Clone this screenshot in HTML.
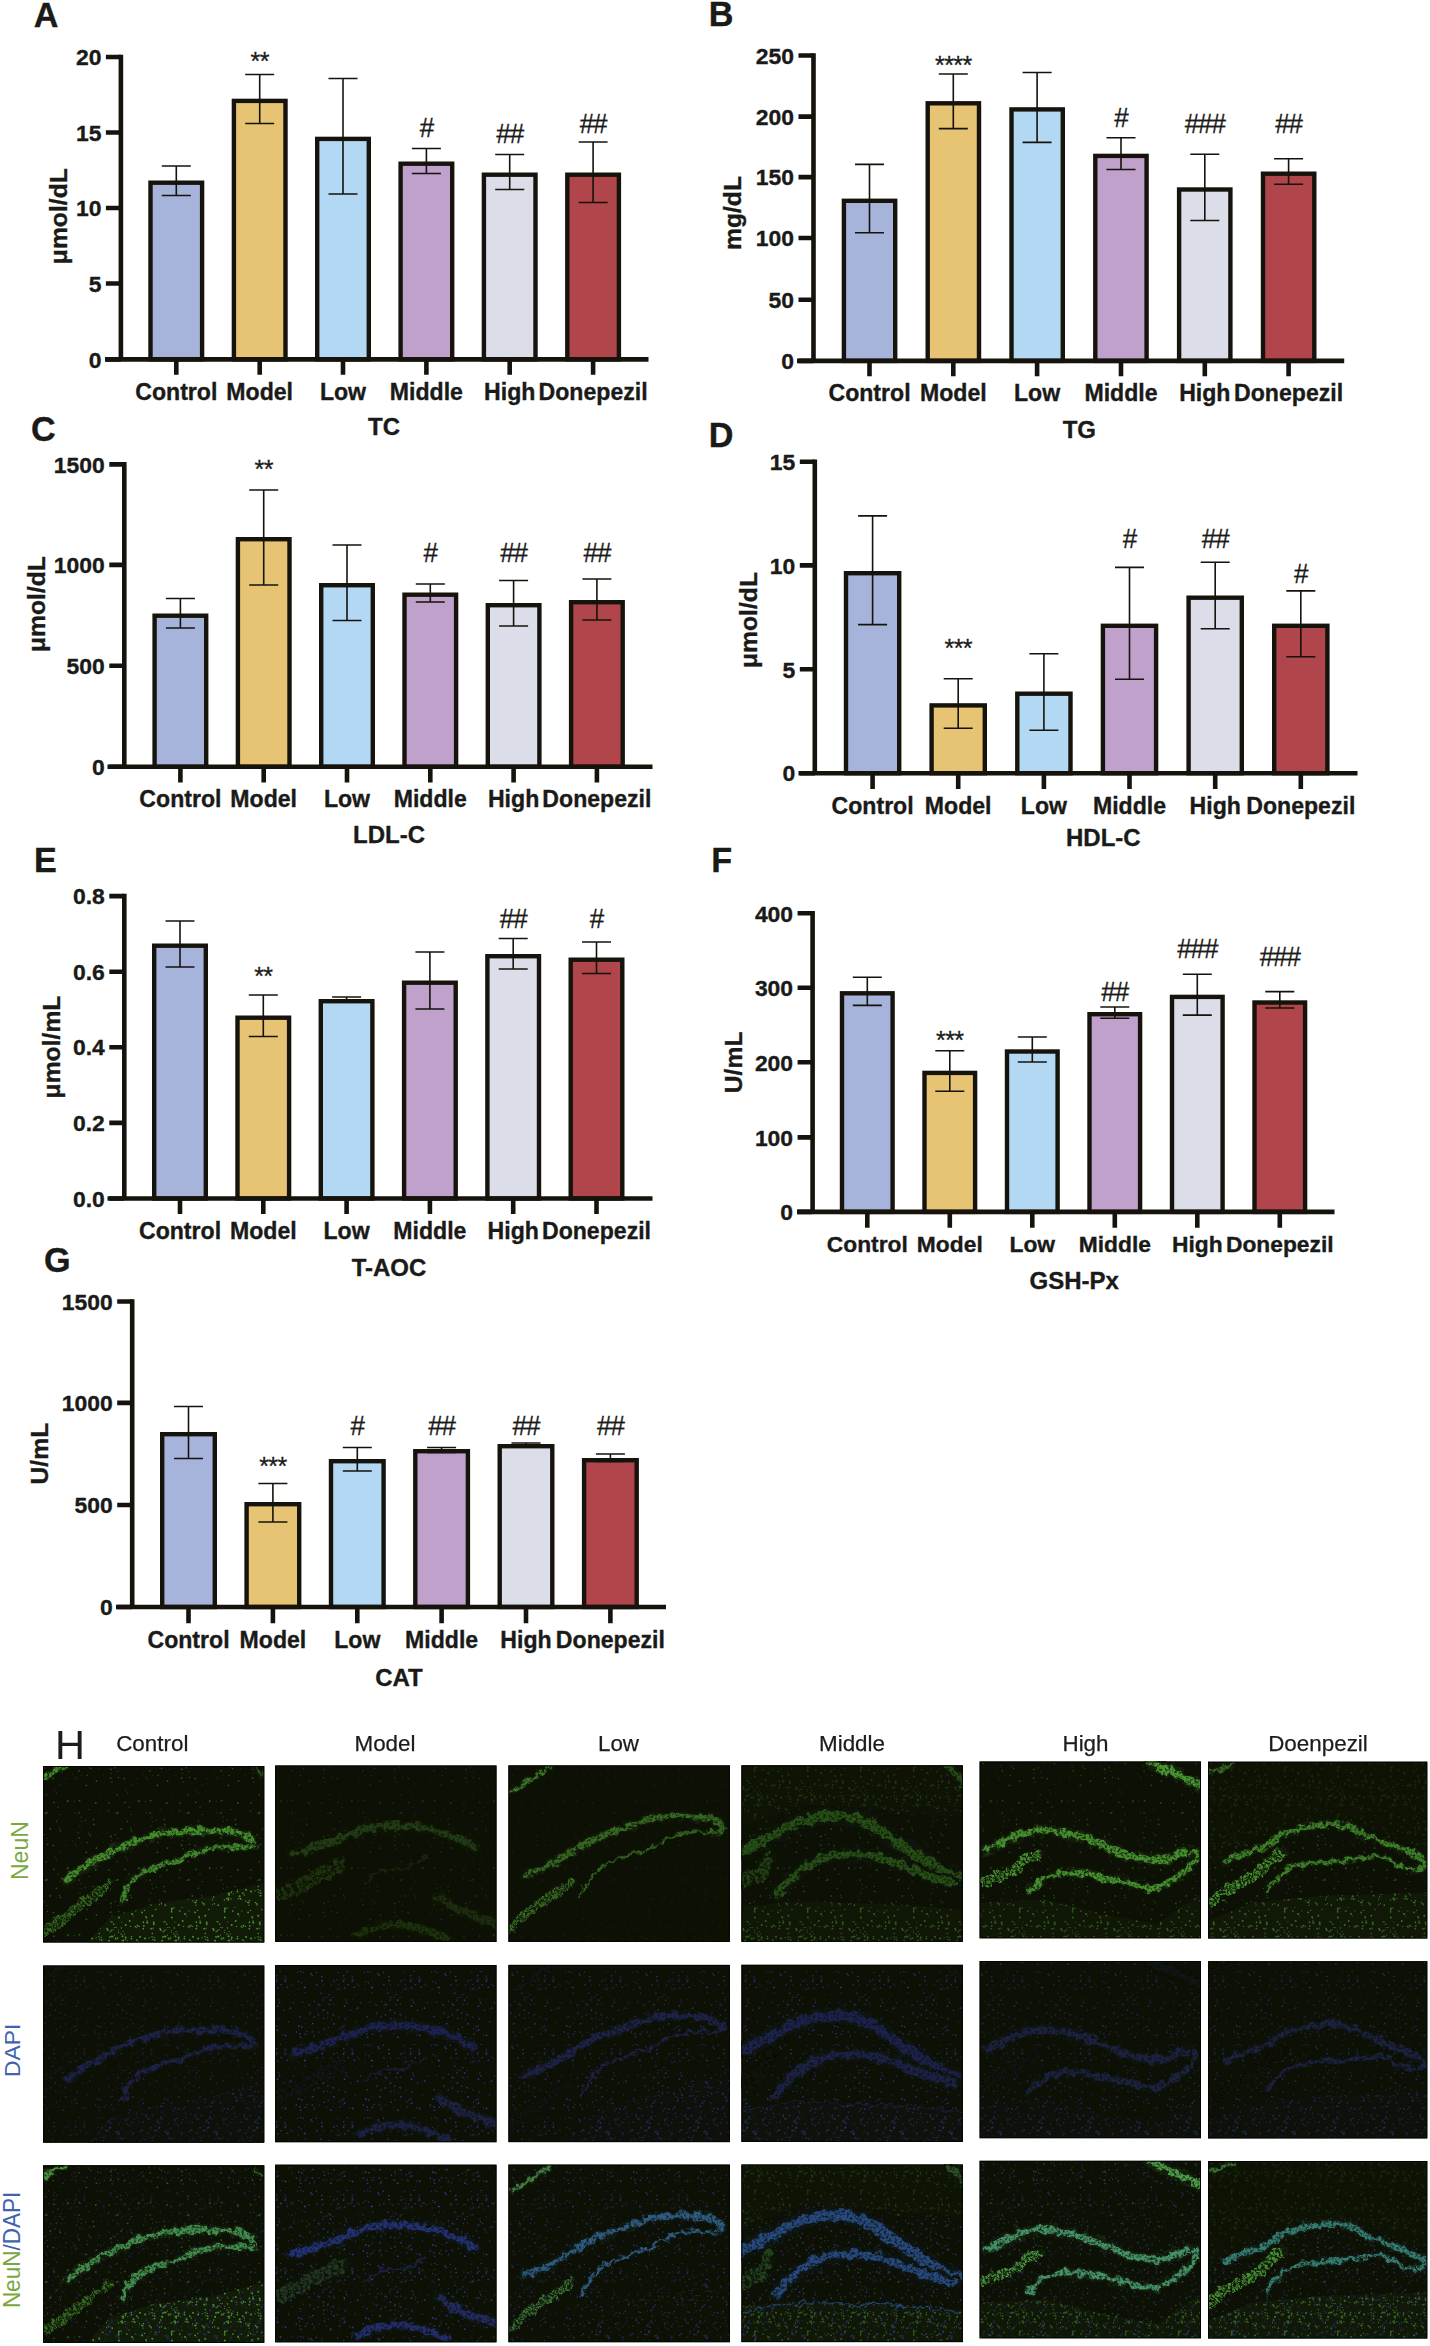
<!DOCTYPE html>
<html lang="en"><head><meta charset="utf-8"><title>Figure</title>
<style>html,body{margin:0;padding:0;background:#fff}svg{display:block}</style></head>
<body>
<svg width="1430" height="2346" viewBox="0 0 1430 2346" font-family="'Liberation Sans', Arial, Helvetica, sans-serif">
<rect width="1430" height="2346" fill="#fff"/>
<rect x="150.5" y="182.7" width="51.6" height="176.7" fill="#a6b4dc" stroke="#15130b" stroke-width="4.4"/>
<rect x="233.9" y="100.9" width="51.6" height="258.5" fill="#e6c473" stroke="#15130b" stroke-width="4.4"/>
<rect x="317.2" y="138.9" width="51.6" height="220.5" fill="#b3d8f3" stroke="#15130b" stroke-width="4.4"/>
<rect x="400.6" y="163.7" width="51.6" height="195.7" fill="#bfa1cc" stroke="#15130b" stroke-width="4.4"/>
<rect x="483.9" y="174.7" width="51.6" height="184.7" fill="#dbdde9" stroke="#15130b" stroke-width="4.4"/>
<rect x="567.3" y="174.7" width="51.6" height="184.7" fill="#b0454c" stroke="#15130b" stroke-width="4.4"/>
<path d="M161.8 166.0H190.8M161.8 195.5H190.8M176.3 166.0V195.5" stroke="#15130b" stroke-width="1.6" fill="none"/>
<path d="M245.2 74.5H274.2M245.2 123.5H274.2M259.7 74.5V123.5" stroke="#15130b" stroke-width="1.6" fill="none"/>
<path d="M328.5 78.5H357.5M328.5 194.0H357.5M343.0 78.5V194.0" stroke="#15130b" stroke-width="1.6" fill="none"/>
<path d="M411.9 148.5H440.9M411.9 173.5H440.9M426.4 148.5V173.5" stroke="#15130b" stroke-width="1.6" fill="none"/>
<path d="M495.2 154.5H524.2M495.2 189.5H524.2M509.7 154.5V189.5" stroke="#15130b" stroke-width="1.6" fill="none"/>
<path d="M578.6 142.0H607.6M578.6 202.5H607.6M593.1 142.0V202.5" stroke="#15130b" stroke-width="1.6" fill="none"/>
<path d="M120.9 54.7V361.7M105.0 359.4H648.5" stroke="#15130b" stroke-width="4.6" fill="none"/>
<path d="M105.9 57.0H120.9M105.9 132.5H120.9M105.9 208.0H120.9M105.9 283.5H120.9M105.9 359.4H120.9" stroke="#15130b" stroke-width="4.6" fill="none"/>
<text x="101.4" y="65.2" font-size="22.9" font-weight="700" text-anchor="end" fill="#1a1a18" stroke="#1a1a18" stroke-width="0.35">20</text>
<text x="101.4" y="140.7" font-size="22.9" font-weight="700" text-anchor="end" fill="#1a1a18" stroke="#1a1a18" stroke-width="0.35">15</text>
<text x="101.4" y="216.2" font-size="22.9" font-weight="700" text-anchor="end" fill="#1a1a18" stroke="#1a1a18" stroke-width="0.35">10</text>
<text x="101.4" y="291.7" font-size="22.9" font-weight="700" text-anchor="end" fill="#1a1a18" stroke="#1a1a18" stroke-width="0.35">5</text>
<text x="101.4" y="367.6" font-size="22.9" font-weight="700" text-anchor="end" fill="#1a1a18" stroke="#1a1a18" stroke-width="0.35">0</text>
<path d="M176.3 359.4V374.8M259.7 359.4V374.8M343.0 359.4V374.8M426.4 359.4V374.8M509.7 359.4V374.8M593.1 359.4V374.8" stroke="#15130b" stroke-width="4.6" fill="none"/>
<text x="176.3" y="399.8" font-size="23.1" font-weight="700" text-anchor="middle" fill="#1a1a18" stroke="#1a1a18" stroke-width="0.35">Control</text>
<text x="259.7" y="399.8" font-size="23.1" font-weight="700" text-anchor="middle" fill="#1a1a18" stroke="#1a1a18" stroke-width="0.35">Model</text>
<text x="343.0" y="399.8" font-size="23.1" font-weight="700" text-anchor="middle" fill="#1a1a18" stroke="#1a1a18" stroke-width="0.35">Low</text>
<text x="426.4" y="399.8" font-size="23.1" font-weight="700" text-anchor="middle" fill="#1a1a18" stroke="#1a1a18" stroke-width="0.35">Middle</text>
<text x="509.7" y="399.8" font-size="23.1" font-weight="700" text-anchor="middle" fill="#1a1a18" stroke="#1a1a18" stroke-width="0.35">High</text>
<text x="593.1" y="399.8" font-size="23.1" font-weight="700" text-anchor="middle" fill="#1a1a18" stroke="#1a1a18" stroke-width="0.35">Donepezil</text>
<text x="384.0" y="435.0" font-size="24" font-weight="700" text-anchor="middle" fill="#1a1a18" stroke="#1a1a18" stroke-width="0.35">TC</text>
<text x="66.7" y="216.2" font-size="24.7" font-weight="700" text-anchor="middle" fill="#1a1a18" stroke="#1a1a18" stroke-width="0.35" transform="rotate(-90 66.7 216.2)">μmol/dL</text>
<text x="259.7" y="70.1" font-size="25" text-anchor="middle" fill="#1a1a18" letter-spacing="-0.6" stroke="#1a1a18" stroke-width="0.3">**</text>
<text transform="translate(426.4 137.0) scale(0.93 1)" font-size="28" text-anchor="middle" fill="#1a1a18" letter-spacing="-1.1" stroke="#1a1a18" stroke-width="0.3">#</text>
<text transform="translate(509.7 143.0) scale(0.93 1)" font-size="28" text-anchor="middle" fill="#1a1a18" letter-spacing="-1.1" stroke="#1a1a18" stroke-width="0.3">##</text>
<text transform="translate(593.1 133.0) scale(0.93 1)" font-size="28" text-anchor="middle" fill="#1a1a18" letter-spacing="-1.1" stroke="#1a1a18" stroke-width="0.3">##</text>
<text x="33.7" y="26.5" font-size="34.2" font-weight="700" text-anchor="start" fill="#1a1a18" stroke="#1a1a18" stroke-width="0.35">A</text>
<rect x="843.9" y="200.8" width="51.3" height="160.1" fill="#a6b4dc" stroke="#15130b" stroke-width="4.4"/>
<rect x="927.7" y="103.3" width="51.3" height="257.6" fill="#e6c473" stroke="#15130b" stroke-width="4.4"/>
<rect x="1011.5" y="109.4" width="51.3" height="251.5" fill="#b3d8f3" stroke="#15130b" stroke-width="4.4"/>
<rect x="1095.3" y="155.9" width="51.3" height="205.0" fill="#bfa1cc" stroke="#15130b" stroke-width="4.4"/>
<rect x="1179.1" y="189.5" width="51.3" height="171.4" fill="#dbdde9" stroke="#15130b" stroke-width="4.4"/>
<rect x="1263.0" y="173.7" width="51.3" height="187.2" fill="#b0454c" stroke="#15130b" stroke-width="4.4"/>
<path d="M855.0 164.4H884.0M855.0 232.8H884.0M869.5 164.4V232.8" stroke="#15130b" stroke-width="1.6" fill="none"/>
<path d="M938.8 74.0H967.8M938.8 128.6H967.8M953.3 74.0V128.6" stroke="#15130b" stroke-width="1.6" fill="none"/>
<path d="M1022.6 72.5H1051.6M1022.6 142.4H1051.6M1037.1 72.5V142.4" stroke="#15130b" stroke-width="1.6" fill="none"/>
<path d="M1106.5 137.8H1135.5M1106.5 169.5H1135.5M1121.0 137.8V169.5" stroke="#15130b" stroke-width="1.6" fill="none"/>
<path d="M1190.3 154.2H1219.3M1190.3 220.5H1219.3M1204.8 154.2V220.5" stroke="#15130b" stroke-width="1.6" fill="none"/>
<path d="M1274.1 158.8H1303.1M1274.1 184.3H1303.1M1288.6 158.8V184.3" stroke="#15130b" stroke-width="1.6" fill="none"/>
<path d="M813.5 53.2V363.2M797.0 360.9H1344.2" stroke="#15130b" stroke-width="4.6" fill="none"/>
<path d="M798.5 55.5H813.5M798.5 116.6H813.5M798.5 177.1H813.5M798.5 238.0H813.5M798.5 299.7H813.5M798.5 360.9H813.5" stroke="#15130b" stroke-width="4.6" fill="none"/>
<text x="794.0" y="63.7" font-size="22.9" font-weight="700" text-anchor="end" fill="#1a1a18" stroke="#1a1a18" stroke-width="0.35">250</text>
<text x="794.0" y="124.8" font-size="22.9" font-weight="700" text-anchor="end" fill="#1a1a18" stroke="#1a1a18" stroke-width="0.35">200</text>
<text x="794.0" y="185.3" font-size="22.9" font-weight="700" text-anchor="end" fill="#1a1a18" stroke="#1a1a18" stroke-width="0.35">150</text>
<text x="794.0" y="246.2" font-size="22.9" font-weight="700" text-anchor="end" fill="#1a1a18" stroke="#1a1a18" stroke-width="0.35">100</text>
<text x="794.0" y="307.9" font-size="22.9" font-weight="700" text-anchor="end" fill="#1a1a18" stroke="#1a1a18" stroke-width="0.35">50</text>
<text x="794.0" y="369.1" font-size="22.9" font-weight="700" text-anchor="end" fill="#1a1a18" stroke="#1a1a18" stroke-width="0.35">0</text>
<path d="M869.5 360.9V376.2M953.3 360.9V376.2M1037.1 360.9V376.2M1121.0 360.9V376.2M1204.8 360.9V376.2M1288.6 360.9V376.2" stroke="#15130b" stroke-width="4.6" fill="none"/>
<text x="869.5" y="400.7" font-size="23.1" font-weight="700" text-anchor="middle" fill="#1a1a18" stroke="#1a1a18" stroke-width="0.35">Control</text>
<text x="953.3" y="400.7" font-size="23.1" font-weight="700" text-anchor="middle" fill="#1a1a18" stroke="#1a1a18" stroke-width="0.35">Model</text>
<text x="1037.1" y="400.7" font-size="23.1" font-weight="700" text-anchor="middle" fill="#1a1a18" stroke="#1a1a18" stroke-width="0.35">Low</text>
<text x="1121.0" y="400.7" font-size="23.1" font-weight="700" text-anchor="middle" fill="#1a1a18" stroke="#1a1a18" stroke-width="0.35">Middle</text>
<text x="1204.8" y="400.7" font-size="23.1" font-weight="700" text-anchor="middle" fill="#1a1a18" stroke="#1a1a18" stroke-width="0.35">High</text>
<text x="1288.6" y="400.7" font-size="23.1" font-weight="700" text-anchor="middle" fill="#1a1a18" stroke="#1a1a18" stroke-width="0.35">Donepezil</text>
<text x="1079.3" y="438.0" font-size="24" font-weight="700" text-anchor="middle" fill="#1a1a18" stroke="#1a1a18" stroke-width="0.35">TG</text>
<text x="740.6" y="213.0" font-size="24.7" font-weight="700" text-anchor="middle" fill="#1a1a18" stroke="#1a1a18" stroke-width="0.35" transform="rotate(-90 740.6 213.0)">mg/dL</text>
<text x="953.3" y="74.1" font-size="25" text-anchor="middle" fill="#1a1a18" letter-spacing="-0.6" stroke="#1a1a18" stroke-width="0.3">****</text>
<text transform="translate(1121.0 127.0) scale(0.93 1)" font-size="28" text-anchor="middle" fill="#1a1a18" letter-spacing="-1.1" stroke="#1a1a18" stroke-width="0.3">#</text>
<text transform="translate(1204.8 132.5) scale(0.93 1)" font-size="28" text-anchor="middle" fill="#1a1a18" letter-spacing="-1.1" stroke="#1a1a18" stroke-width="0.3">###</text>
<text transform="translate(1288.6 132.5) scale(0.93 1)" font-size="28" text-anchor="middle" fill="#1a1a18" letter-spacing="-1.1" stroke="#1a1a18" stroke-width="0.3">##</text>
<text x="708.8" y="26.2" font-size="34.2" font-weight="700" text-anchor="start" fill="#1a1a18" stroke="#1a1a18" stroke-width="0.35">B</text>
<rect x="154.6" y="615.7" width="51.6" height="151.1" fill="#a6b4dc" stroke="#15130b" stroke-width="4.4"/>
<rect x="237.9" y="539.2" width="51.6" height="227.6" fill="#e6c473" stroke="#15130b" stroke-width="4.4"/>
<rect x="321.2" y="585.2" width="51.6" height="181.6" fill="#b3d8f3" stroke="#15130b" stroke-width="4.4"/>
<rect x="404.5" y="594.7" width="51.6" height="172.1" fill="#bfa1cc" stroke="#15130b" stroke-width="4.4"/>
<rect x="487.8" y="605.2" width="51.6" height="161.6" fill="#dbdde9" stroke="#15130b" stroke-width="4.4"/>
<rect x="571.1" y="602.2" width="51.6" height="164.6" fill="#b0454c" stroke="#15130b" stroke-width="4.4"/>
<path d="M165.9 598.5H194.9M165.9 628.0H194.9M180.4 598.5V628.0" stroke="#15130b" stroke-width="1.6" fill="none"/>
<path d="M249.2 490.0H278.2M249.2 585.0H278.2M263.7 490.0V585.0" stroke="#15130b" stroke-width="1.6" fill="none"/>
<path d="M332.5 545.0H361.5M332.5 620.5H361.5M347.0 545.0V620.5" stroke="#15130b" stroke-width="1.6" fill="none"/>
<path d="M415.8 584.0H444.8M415.8 602.0H444.8M430.3 584.0V602.0" stroke="#15130b" stroke-width="1.6" fill="none"/>
<path d="M499.1 580.5H528.1M499.1 626.0H528.1M513.6 580.5V626.0" stroke="#15130b" stroke-width="1.6" fill="none"/>
<path d="M582.4 579.0H611.4M582.4 620.0H611.4M596.9 579.0V620.0" stroke="#15130b" stroke-width="1.6" fill="none"/>
<path d="M124.3 462.1V769.1M107.5 766.8H652.5" stroke="#15130b" stroke-width="4.6" fill="none"/>
<path d="M109.3 464.4H124.3M109.3 564.9H124.3M109.3 665.7H124.3M109.3 766.8H124.3" stroke="#15130b" stroke-width="4.6" fill="none"/>
<text x="104.8" y="472.6" font-size="22.9" font-weight="700" text-anchor="end" fill="#1a1a18" stroke="#1a1a18" stroke-width="0.35">1500</text>
<text x="104.8" y="573.1" font-size="22.9" font-weight="700" text-anchor="end" fill="#1a1a18" stroke="#1a1a18" stroke-width="0.35">1000</text>
<text x="104.8" y="673.9" font-size="22.9" font-weight="700" text-anchor="end" fill="#1a1a18" stroke="#1a1a18" stroke-width="0.35">500</text>
<text x="104.8" y="775.0" font-size="22.9" font-weight="700" text-anchor="end" fill="#1a1a18" stroke="#1a1a18" stroke-width="0.35">0</text>
<path d="M180.4 766.8V782.6M263.7 766.8V782.6M347.0 766.8V782.6M430.3 766.8V782.6M513.6 766.8V782.6M596.9 766.8V782.6" stroke="#15130b" stroke-width="4.6" fill="none"/>
<text x="180.4" y="806.8" font-size="23.1" font-weight="700" text-anchor="middle" fill="#1a1a18" stroke="#1a1a18" stroke-width="0.35">Control</text>
<text x="263.7" y="806.8" font-size="23.1" font-weight="700" text-anchor="middle" fill="#1a1a18" stroke="#1a1a18" stroke-width="0.35">Model</text>
<text x="347.0" y="806.8" font-size="23.1" font-weight="700" text-anchor="middle" fill="#1a1a18" stroke="#1a1a18" stroke-width="0.35">Low</text>
<text x="430.3" y="806.8" font-size="23.1" font-weight="700" text-anchor="middle" fill="#1a1a18" stroke="#1a1a18" stroke-width="0.35">Middle</text>
<text x="513.6" y="806.8" font-size="23.1" font-weight="700" text-anchor="middle" fill="#1a1a18" stroke="#1a1a18" stroke-width="0.35">High</text>
<text x="596.9" y="806.8" font-size="23.1" font-weight="700" text-anchor="middle" fill="#1a1a18" stroke="#1a1a18" stroke-width="0.35">Donepezil</text>
<text x="389.0" y="843.0" font-size="24" font-weight="700" text-anchor="middle" fill="#1a1a18" stroke="#1a1a18" stroke-width="0.35">LDL-C</text>
<text x="44.8" y="604.1" font-size="24.7" font-weight="700" text-anchor="middle" fill="#1a1a18" stroke="#1a1a18" stroke-width="0.35" transform="rotate(-90 44.8 604.1)">μmol/dL</text>
<text x="263.7" y="478.1" font-size="25" text-anchor="middle" fill="#1a1a18" letter-spacing="-0.6" stroke="#1a1a18" stroke-width="0.3">**</text>
<text transform="translate(430.3 562.0) scale(0.93 1)" font-size="28" text-anchor="middle" fill="#1a1a18" letter-spacing="-1.1" stroke="#1a1a18" stroke-width="0.3">#</text>
<text transform="translate(513.6 562.0) scale(0.93 1)" font-size="28" text-anchor="middle" fill="#1a1a18" letter-spacing="-1.1" stroke="#1a1a18" stroke-width="0.3">##</text>
<text transform="translate(596.9 562.0) scale(0.93 1)" font-size="28" text-anchor="middle" fill="#1a1a18" letter-spacing="-1.1" stroke="#1a1a18" stroke-width="0.3">##</text>
<text x="31.0" y="440.8" font-size="34.2" font-weight="700" text-anchor="start" fill="#1a1a18" stroke="#1a1a18" stroke-width="0.35">C</text>
<rect x="846.0" y="573.2" width="53.2" height="200.0" fill="#a6b4dc" stroke="#15130b" stroke-width="4.4"/>
<rect x="931.6" y="705.4" width="53.2" height="67.8" fill="#e6c473" stroke="#15130b" stroke-width="4.4"/>
<rect x="1017.3" y="693.7" width="53.2" height="79.5" fill="#b3d8f3" stroke="#15130b" stroke-width="4.4"/>
<rect x="1102.9" y="625.8" width="53.2" height="147.4" fill="#bfa1cc" stroke="#15130b" stroke-width="4.4"/>
<rect x="1188.6" y="597.7" width="53.2" height="175.5" fill="#dbdde9" stroke="#15130b" stroke-width="4.4"/>
<rect x="1274.2" y="625.8" width="53.2" height="147.4" fill="#b0454c" stroke="#15130b" stroke-width="4.4"/>
<path d="M858.1 515.9H887.1M858.1 624.6H887.1M872.6 515.9V624.6" stroke="#15130b" stroke-width="1.6" fill="none"/>
<path d="M943.7 678.7H972.7M943.7 728.2H972.7M958.2 678.7V728.2" stroke="#15130b" stroke-width="1.6" fill="none"/>
<path d="M1029.4 653.7H1058.4M1029.4 730.3H1058.4M1043.9 653.7V730.3" stroke="#15130b" stroke-width="1.6" fill="none"/>
<path d="M1115.0 567.4H1144.0M1115.0 679.2H1144.0M1129.5 567.4V679.2" stroke="#15130b" stroke-width="1.6" fill="none"/>
<path d="M1200.7 562.3H1229.7M1200.7 628.7H1229.7M1215.2 562.3V628.7" stroke="#15130b" stroke-width="1.6" fill="none"/>
<path d="M1286.3 590.9H1315.3M1286.3 656.8H1315.3M1300.8 590.9V656.8" stroke="#15130b" stroke-width="1.6" fill="none"/>
<path d="M814.8 459.5V775.5M798.5 773.2H1357.5" stroke="#15130b" stroke-width="4.6" fill="none"/>
<path d="M799.8 461.8H814.8M799.8 565.4H814.8M799.8 669.3H814.8M799.8 773.2H814.8" stroke="#15130b" stroke-width="4.6" fill="none"/>
<text x="795.3" y="470.0" font-size="22.9" font-weight="700" text-anchor="end" fill="#1a1a18" stroke="#1a1a18" stroke-width="0.35">15</text>
<text x="795.3" y="573.6" font-size="22.9" font-weight="700" text-anchor="end" fill="#1a1a18" stroke="#1a1a18" stroke-width="0.35">10</text>
<text x="795.3" y="677.5" font-size="22.9" font-weight="700" text-anchor="end" fill="#1a1a18" stroke="#1a1a18" stroke-width="0.35">5</text>
<text x="795.3" y="781.4" font-size="22.9" font-weight="700" text-anchor="end" fill="#1a1a18" stroke="#1a1a18" stroke-width="0.35">0</text>
<path d="M872.6 773.2V789.0M958.2 773.2V789.0M1043.9 773.2V789.0M1129.5 773.2V789.0M1215.2 773.2V789.0M1300.8 773.2V789.0" stroke="#15130b" stroke-width="4.6" fill="none"/>
<text x="872.6" y="813.5" font-size="23.1" font-weight="700" text-anchor="middle" fill="#1a1a18" stroke="#1a1a18" stroke-width="0.35">Control</text>
<text x="958.2" y="813.5" font-size="23.1" font-weight="700" text-anchor="middle" fill="#1a1a18" stroke="#1a1a18" stroke-width="0.35">Model</text>
<text x="1043.9" y="813.5" font-size="23.1" font-weight="700" text-anchor="middle" fill="#1a1a18" stroke="#1a1a18" stroke-width="0.35">Low</text>
<text x="1129.5" y="813.5" font-size="23.1" font-weight="700" text-anchor="middle" fill="#1a1a18" stroke="#1a1a18" stroke-width="0.35">Middle</text>
<text x="1215.2" y="813.5" font-size="23.1" font-weight="700" text-anchor="middle" fill="#1a1a18" stroke="#1a1a18" stroke-width="0.35">High</text>
<text x="1300.8" y="813.5" font-size="23.1" font-weight="700" text-anchor="middle" fill="#1a1a18" stroke="#1a1a18" stroke-width="0.35">Donepezil</text>
<text x="1103.3" y="845.7" font-size="24" font-weight="700" text-anchor="middle" fill="#1a1a18" stroke="#1a1a18" stroke-width="0.35">HDL-C</text>
<text x="757.3" y="620.0" font-size="24.7" font-weight="700" text-anchor="middle" fill="#1a1a18" stroke="#1a1a18" stroke-width="0.35" transform="rotate(-90 757.3 620.0)">μmol/dL</text>
<text x="958.2" y="657.1" font-size="25" text-anchor="middle" fill="#1a1a18" letter-spacing="-0.6" stroke="#1a1a18" stroke-width="0.3">***</text>
<text transform="translate(1129.5 548.0) scale(0.93 1)" font-size="28" text-anchor="middle" fill="#1a1a18" letter-spacing="-1.1" stroke="#1a1a18" stroke-width="0.3">#</text>
<text transform="translate(1215.2 548.0) scale(0.93 1)" font-size="28" text-anchor="middle" fill="#1a1a18" letter-spacing="-1.1" stroke="#1a1a18" stroke-width="0.3">##</text>
<text transform="translate(1300.8 582.5) scale(0.93 1)" font-size="28" text-anchor="middle" fill="#1a1a18" letter-spacing="-1.1" stroke="#1a1a18" stroke-width="0.3">#</text>
<text x="708.8" y="446.9" font-size="34.2" font-weight="700" text-anchor="start" fill="#1a1a18" stroke="#1a1a18" stroke-width="0.35">D</text>
<rect x="154.2" y="945.7" width="51.6" height="252.8" fill="#a6b4dc" stroke="#15130b" stroke-width="4.4"/>
<rect x="237.5" y="1017.7" width="51.6" height="180.8" fill="#e6c473" stroke="#15130b" stroke-width="4.4"/>
<rect x="320.8" y="1001.2" width="51.6" height="197.3" fill="#b3d8f3" stroke="#15130b" stroke-width="4.4"/>
<rect x="404.1" y="982.7" width="51.6" height="215.8" fill="#bfa1cc" stroke="#15130b" stroke-width="4.4"/>
<rect x="487.4" y="956.2" width="51.6" height="242.3" fill="#dbdde9" stroke="#15130b" stroke-width="4.4"/>
<rect x="570.7" y="959.7" width="51.6" height="238.8" fill="#b0454c" stroke="#15130b" stroke-width="4.4"/>
<path d="M165.5 921.0H194.5M165.5 967.0H194.5M180.0 921.0V967.0" stroke="#15130b" stroke-width="1.6" fill="none"/>
<path d="M248.8 995.0H277.8M248.8 1036.5H277.8M263.3 995.0V1036.5" stroke="#15130b" stroke-width="1.6" fill="none"/>
<path d="M332.1 997.0H361.1M332.1 1002.0H361.1M346.6 997.0V1002.0" stroke="#15130b" stroke-width="1.6" fill="none"/>
<path d="M415.4 952.0H444.4M415.4 1009.0H444.4M429.9 952.0V1009.0" stroke="#15130b" stroke-width="1.6" fill="none"/>
<path d="M498.7 938.5H527.7M498.7 969.0H527.7M513.2 938.5V969.0" stroke="#15130b" stroke-width="1.6" fill="none"/>
<path d="M582.0 942.0H611.0M582.0 973.5H611.0M596.5 942.0V973.5" stroke="#15130b" stroke-width="1.6" fill="none"/>
<path d="M124.3 893.8V1200.8M107.5 1198.5H652.5" stroke="#15130b" stroke-width="4.6" fill="none"/>
<path d="M109.3 896.1H124.3M109.3 971.7H124.3M109.3 1047.2H124.3M109.3 1122.9H124.3M109.3 1198.5H124.3" stroke="#15130b" stroke-width="4.6" fill="none"/>
<text x="104.8" y="904.3" font-size="22.9" font-weight="700" text-anchor="end" fill="#1a1a18" stroke="#1a1a18" stroke-width="0.35">0.8</text>
<text x="104.8" y="979.9" font-size="22.9" font-weight="700" text-anchor="end" fill="#1a1a18" stroke="#1a1a18" stroke-width="0.35">0.6</text>
<text x="104.8" y="1055.4" font-size="22.9" font-weight="700" text-anchor="end" fill="#1a1a18" stroke="#1a1a18" stroke-width="0.35">0.4</text>
<text x="104.8" y="1131.1" font-size="22.9" font-weight="700" text-anchor="end" fill="#1a1a18" stroke="#1a1a18" stroke-width="0.35">0.2</text>
<text x="104.8" y="1206.7" font-size="22.9" font-weight="700" text-anchor="end" fill="#1a1a18" stroke="#1a1a18" stroke-width="0.35">0.0</text>
<path d="M180.0 1198.5V1214.0M263.3 1198.5V1214.0M346.6 1198.5V1214.0M429.9 1198.5V1214.0M513.2 1198.5V1214.0M596.5 1198.5V1214.0" stroke="#15130b" stroke-width="4.6" fill="none"/>
<text x="180.0" y="1238.6" font-size="23.1" font-weight="700" text-anchor="middle" fill="#1a1a18" stroke="#1a1a18" stroke-width="0.35">Control</text>
<text x="263.3" y="1238.6" font-size="23.1" font-weight="700" text-anchor="middle" fill="#1a1a18" stroke="#1a1a18" stroke-width="0.35">Model</text>
<text x="346.6" y="1238.6" font-size="23.1" font-weight="700" text-anchor="middle" fill="#1a1a18" stroke="#1a1a18" stroke-width="0.35">Low</text>
<text x="429.9" y="1238.6" font-size="23.1" font-weight="700" text-anchor="middle" fill="#1a1a18" stroke="#1a1a18" stroke-width="0.35">Middle</text>
<text x="513.2" y="1238.6" font-size="23.1" font-weight="700" text-anchor="middle" fill="#1a1a18" stroke="#1a1a18" stroke-width="0.35">High</text>
<text x="596.5" y="1238.6" font-size="23.1" font-weight="700" text-anchor="middle" fill="#1a1a18" stroke="#1a1a18" stroke-width="0.35">Donepezil</text>
<text x="389.0" y="1276.0" font-size="24" font-weight="700" text-anchor="middle" fill="#1a1a18" stroke="#1a1a18" stroke-width="0.35">T-AOC</text>
<text x="60.1" y="1047.0" font-size="24.7" font-weight="700" text-anchor="middle" fill="#1a1a18" stroke="#1a1a18" stroke-width="0.35" transform="rotate(-90 60.1 1047.0)">μmol/mL</text>
<text x="263.3" y="985.1" font-size="25" text-anchor="middle" fill="#1a1a18" letter-spacing="-0.6" stroke="#1a1a18" stroke-width="0.3">**</text>
<text transform="translate(513.2 928.0) scale(0.93 1)" font-size="28" text-anchor="middle" fill="#1a1a18" letter-spacing="-1.1" stroke="#1a1a18" stroke-width="0.3">##</text>
<text transform="translate(596.5 928.0) scale(0.93 1)" font-size="28" text-anchor="middle" fill="#1a1a18" letter-spacing="-1.1" stroke="#1a1a18" stroke-width="0.3">#</text>
<text x="33.9" y="871.5" font-size="34.2" font-weight="700" text-anchor="start" fill="#1a1a18" stroke="#1a1a18" stroke-width="0.35">E</text>
<rect x="842.0" y="993.3" width="50.6" height="218.6" fill="#a6b4dc" stroke="#15130b" stroke-width="4.4"/>
<rect x="924.5" y="1072.9" width="50.6" height="139.0" fill="#e6c473" stroke="#15130b" stroke-width="4.4"/>
<rect x="1007.0" y="1051.5" width="50.6" height="160.4" fill="#b3d8f3" stroke="#15130b" stroke-width="4.4"/>
<rect x="1089.5" y="1014.2" width="50.6" height="197.7" fill="#bfa1cc" stroke="#15130b" stroke-width="4.4"/>
<rect x="1172.0" y="996.9" width="50.6" height="215.0" fill="#dbdde9" stroke="#15130b" stroke-width="4.4"/>
<rect x="1254.5" y="1002.5" width="50.6" height="209.4" fill="#b0454c" stroke="#15130b" stroke-width="4.4"/>
<path d="M852.8 977.3H881.8M852.8 1005.4H881.8M867.3 977.3V1005.4" stroke="#15130b" stroke-width="1.6" fill="none"/>
<path d="M935.3 1050.8H964.3M935.3 1091.2H964.3M949.8 1050.8V1091.2" stroke="#15130b" stroke-width="1.6" fill="none"/>
<path d="M1017.8 1037.0H1046.8M1017.8 1062.0H1046.8M1032.3 1037.0V1062.0" stroke="#15130b" stroke-width="1.6" fill="none"/>
<path d="M1100.3 1007.0H1129.3M1100.3 1018.2H1129.3M1114.8 1007.0V1018.2" stroke="#15130b" stroke-width="1.6" fill="none"/>
<path d="M1182.8 974.3H1211.8M1182.8 1015.1H1211.8M1197.3 974.3V1015.1" stroke="#15130b" stroke-width="1.6" fill="none"/>
<path d="M1265.3 991.6H1294.3M1265.3 1008.0H1294.3M1279.8 991.6V1008.0" stroke="#15130b" stroke-width="1.6" fill="none"/>
<path d="M812.6 911.0V1214.2M797.0 1211.9H1334.5" stroke="#15130b" stroke-width="4.6" fill="none"/>
<path d="M797.6 913.3H812.6M797.6 987.8H812.6M797.6 1062.3H812.6M797.6 1137.4H812.6M797.6 1211.9H812.6" stroke="#15130b" stroke-width="4.6" fill="none"/>
<text x="793.1" y="921.5" font-size="22.9" font-weight="700" text-anchor="end" fill="#1a1a18" stroke="#1a1a18" stroke-width="0.35">400</text>
<text x="793.1" y="996.0" font-size="22.9" font-weight="700" text-anchor="end" fill="#1a1a18" stroke="#1a1a18" stroke-width="0.35">300</text>
<text x="793.1" y="1070.5" font-size="22.9" font-weight="700" text-anchor="end" fill="#1a1a18" stroke="#1a1a18" stroke-width="0.35">200</text>
<text x="793.1" y="1145.6" font-size="22.9" font-weight="700" text-anchor="end" fill="#1a1a18" stroke="#1a1a18" stroke-width="0.35">100</text>
<text x="793.1" y="1220.1" font-size="22.9" font-weight="700" text-anchor="end" fill="#1a1a18" stroke="#1a1a18" stroke-width="0.35">0</text>
<path d="M867.3 1211.9V1227.8M949.8 1211.9V1227.8M1032.3 1211.9V1227.8M1114.8 1211.9V1227.8M1197.3 1211.9V1227.8M1279.8 1211.9V1227.8" stroke="#15130b" stroke-width="4.6" fill="none"/>
<text x="867.3" y="1251.6" font-size="22.8" font-weight="700" text-anchor="middle" fill="#1a1a18" stroke="#1a1a18" stroke-width="0.35">Control</text>
<text x="949.8" y="1251.6" font-size="22.8" font-weight="700" text-anchor="middle" fill="#1a1a18" stroke="#1a1a18" stroke-width="0.35">Model</text>
<text x="1032.3" y="1251.6" font-size="22.8" font-weight="700" text-anchor="middle" fill="#1a1a18" stroke="#1a1a18" stroke-width="0.35">Low</text>
<text x="1114.8" y="1251.6" font-size="22.8" font-weight="700" text-anchor="middle" fill="#1a1a18" stroke="#1a1a18" stroke-width="0.35">Middle</text>
<text x="1197.3" y="1251.6" font-size="22.8" font-weight="700" text-anchor="middle" fill="#1a1a18" stroke="#1a1a18" stroke-width="0.35">High</text>
<text x="1279.8" y="1251.6" font-size="22.8" font-weight="700" text-anchor="middle" fill="#1a1a18" stroke="#1a1a18" stroke-width="0.35">Donepezil</text>
<text x="1074.2" y="1289.2" font-size="24" font-weight="700" text-anchor="middle" fill="#1a1a18" stroke="#1a1a18" stroke-width="0.35">GSH-Px</text>
<text x="741.8" y="1062.4" font-size="24.7" font-weight="700" text-anchor="middle" fill="#1a1a18" stroke="#1a1a18" stroke-width="0.35" transform="rotate(-90 741.8 1062.4)">U/mL</text>
<text x="949.8" y="1048.6" font-size="25" text-anchor="middle" fill="#1a1a18" letter-spacing="-0.6" stroke="#1a1a18" stroke-width="0.3">***</text>
<text transform="translate(1114.8 1000.6) scale(0.93 1)" font-size="28" text-anchor="middle" fill="#1a1a18" letter-spacing="-1.1" stroke="#1a1a18" stroke-width="0.3">##</text>
<text transform="translate(1197.3 957.7) scale(0.93 1)" font-size="28" text-anchor="middle" fill="#1a1a18" letter-spacing="-1.1" stroke="#1a1a18" stroke-width="0.3">###</text>
<text transform="translate(1279.8 966.4) scale(0.93 1)" font-size="28" text-anchor="middle" fill="#1a1a18" letter-spacing="-1.1" stroke="#1a1a18" stroke-width="0.3">###</text>
<text x="711.3" y="871.5" font-size="34.2" font-weight="700" text-anchor="start" fill="#1a1a18" stroke="#1a1a18" stroke-width="0.35">F</text>
<rect x="162.2" y="1434.2" width="52.6" height="172.8" fill="#a6b4dc" stroke="#15130b" stroke-width="4.4"/>
<rect x="246.6" y="1504.2" width="52.6" height="102.8" fill="#e6c473" stroke="#15130b" stroke-width="4.4"/>
<rect x="331.0" y="1461.2" width="52.6" height="145.8" fill="#b3d8f3" stroke="#15130b" stroke-width="4.4"/>
<rect x="415.3" y="1451.2" width="52.6" height="155.8" fill="#bfa1cc" stroke="#15130b" stroke-width="4.4"/>
<rect x="499.7" y="1446.2" width="52.6" height="160.8" fill="#dbdde9" stroke="#15130b" stroke-width="4.4"/>
<rect x="584.1" y="1460.2" width="52.6" height="146.8" fill="#b0454c" stroke="#15130b" stroke-width="4.4"/>
<path d="M174.0 1406.5H203.0M174.0 1458.5H203.0M188.5 1406.5V1458.5" stroke="#15130b" stroke-width="1.6" fill="none"/>
<path d="M258.4 1483.5H287.4M258.4 1522.0H287.4M272.9 1483.5V1522.0" stroke="#15130b" stroke-width="1.6" fill="none"/>
<path d="M342.8 1447.5H371.8M342.8 1471.0H371.8M357.3 1447.5V1471.0" stroke="#15130b" stroke-width="1.6" fill="none"/>
<path d="M427.1 1447.5H456.1M427.1 1452.5H456.1M441.6 1447.5V1452.5" stroke="#15130b" stroke-width="1.6" fill="none"/>
<path d="M511.5 1443.0H540.5M511.5 1447.0H540.5M526.0 1443.0V1447.0" stroke="#15130b" stroke-width="1.6" fill="none"/>
<path d="M595.9 1454.0H624.9M595.9 1461.5H624.9M610.4 1454.0V1461.5" stroke="#15130b" stroke-width="1.6" fill="none"/>
<path d="M132.2 1299.2V1609.3M116.0 1607.0H666.0" stroke="#15130b" stroke-width="4.6" fill="none"/>
<path d="M117.2 1301.5H132.2M117.2 1402.9H132.2M117.2 1505.0H132.2M117.2 1607.0H132.2" stroke="#15130b" stroke-width="4.6" fill="none"/>
<text x="112.7" y="1309.7" font-size="22.9" font-weight="700" text-anchor="end" fill="#1a1a18" stroke="#1a1a18" stroke-width="0.35">1500</text>
<text x="112.7" y="1411.1" font-size="22.9" font-weight="700" text-anchor="end" fill="#1a1a18" stroke="#1a1a18" stroke-width="0.35">1000</text>
<text x="112.7" y="1513.2" font-size="22.9" font-weight="700" text-anchor="end" fill="#1a1a18" stroke="#1a1a18" stroke-width="0.35">500</text>
<text x="112.7" y="1615.2" font-size="22.9" font-weight="700" text-anchor="end" fill="#1a1a18" stroke="#1a1a18" stroke-width="0.35">0</text>
<path d="M188.5 1607.0V1623.3M272.9 1607.0V1623.3M357.3 1607.0V1623.3M441.6 1607.0V1623.3M526.0 1607.0V1623.3M610.4 1607.0V1623.3" stroke="#15130b" stroke-width="4.6" fill="none"/>
<text x="188.5" y="1648.2" font-size="23.1" font-weight="700" text-anchor="middle" fill="#1a1a18" stroke="#1a1a18" stroke-width="0.35">Control</text>
<text x="272.9" y="1648.2" font-size="23.1" font-weight="700" text-anchor="middle" fill="#1a1a18" stroke="#1a1a18" stroke-width="0.35">Model</text>
<text x="357.3" y="1648.2" font-size="23.1" font-weight="700" text-anchor="middle" fill="#1a1a18" stroke="#1a1a18" stroke-width="0.35">Low</text>
<text x="441.6" y="1648.2" font-size="23.1" font-weight="700" text-anchor="middle" fill="#1a1a18" stroke="#1a1a18" stroke-width="0.35">Middle</text>
<text x="526.0" y="1648.2" font-size="23.1" font-weight="700" text-anchor="middle" fill="#1a1a18" stroke="#1a1a18" stroke-width="0.35">High</text>
<text x="610.4" y="1648.2" font-size="23.1" font-weight="700" text-anchor="middle" fill="#1a1a18" stroke="#1a1a18" stroke-width="0.35">Donepezil</text>
<text x="399.0" y="1686.0" font-size="24" font-weight="700" text-anchor="middle" fill="#1a1a18" stroke="#1a1a18" stroke-width="0.35">CAT</text>
<text x="48.3" y="1453.6" font-size="24.7" font-weight="700" text-anchor="middle" fill="#1a1a18" stroke="#1a1a18" stroke-width="0.35" transform="rotate(-90 48.3 1453.6)">U/mL</text>
<text x="272.9" y="1475.1" font-size="25" text-anchor="middle" fill="#1a1a18" letter-spacing="-0.6" stroke="#1a1a18" stroke-width="0.3">***</text>
<text transform="translate(357.3 1435.0) scale(0.93 1)" font-size="28" text-anchor="middle" fill="#1a1a18" letter-spacing="-1.1" stroke="#1a1a18" stroke-width="0.3">#</text>
<text transform="translate(441.6 1435.0) scale(0.93 1)" font-size="28" text-anchor="middle" fill="#1a1a18" letter-spacing="-1.1" stroke="#1a1a18" stroke-width="0.3">##</text>
<text transform="translate(526.0 1435.0) scale(0.93 1)" font-size="28" text-anchor="middle" fill="#1a1a18" letter-spacing="-1.1" stroke="#1a1a18" stroke-width="0.3">##</text>
<text transform="translate(610.4 1435.0) scale(0.93 1)" font-size="28" text-anchor="middle" fill="#1a1a18" letter-spacing="-1.1" stroke="#1a1a18" stroke-width="0.3">##</text>
<text x="44.0" y="1271.5" font-size="34.2" font-weight="700" text-anchor="start" fill="#1a1a18" stroke="#1a1a18" stroke-width="0.35">G</text>
<defs>
<pattern id="spG" width="71" height="67" patternUnits="userSpaceOnUse"><g fill="#489632"><circle cx="22.3" cy="10.4" r="0.76"/><circle cx="5.0" cy="37.0" r="0.60"/><circle cx="4.0" cy="35.0" r="0.42"/><circle cx="29.9" cy="4.8" r="0.45"/><circle cx="29.3" cy="57.1" r="0.47"/><circle cx="15.4" cy="43.3" r="0.92"/><circle cx="39.8" cy="27.4" r="0.94"/><circle cx="3.2" cy="59.2" r="0.56"/><circle cx="10.0" cy="8.1" r="0.57"/><circle cx="56.3" cy="12.5" r="0.72"/><circle cx="44.1" cy="25.7" r="0.70"/><circle cx="4.3" cy="4.1" r="0.51"/><circle cx="46.9" cy="29.5" r="0.57"/><circle cx="40.4" cy="31.3" r="0.56"/><circle cx="54.8" cy="48.2" r="0.53"/><circle cx="39.6" cy="36.2" r="0.88"/><circle cx="50.3" cy="19.9" r="0.94"/><circle cx="8.1" cy="28.9" r="0.82"/><circle cx="10.5" cy="33.7" r="0.42"/><circle cx="46.1" cy="52.8" r="0.72"/><circle cx="60.4" cy="21.6" r="0.78"/><circle cx="41.0" cy="40.0" r="0.65"/><circle cx="58.0" cy="65.2" r="0.66"/><circle cx="45.8" cy="4.2" r="0.79"/><circle cx="44.7" cy="68.5" r="0.85"/><circle cx="19.6" cy="26.6" r="0.77"/><circle cx="1.6" cy="31.9" r="0.49"/><circle cx="8.1" cy="4.1" r="0.82"/><circle cx="8.9" cy="17.1" r="0.62"/><circle cx="60.1" cy="5.6" r="0.65"/><circle cx="37.9" cy="61.0" r="0.85"/><circle cx="59.6" cy="19.2" r="0.63"/><circle cx="24.8" cy="61.0" r="0.93"/><circle cx="10.4" cy="12.2" r="0.53"/><circle cx="16.1" cy="33.5" r="0.72"/><circle cx="18.1" cy="0.3" r="0.63"/><circle cx="25.5" cy="39.1" r="0.92"/><circle cx="47.6" cy="35.6" r="0.74"/><circle cx="46.7" cy="3.7" r="0.89"/><circle cx="53.8" cy="60.3" r="0.84"/><circle cx="27.1" cy="27.5" r="0.46"/><circle cx="43.8" cy="4.3" r="0.44"/><circle cx="14.4" cy="11.2" r="0.59"/><circle cx="3.6" cy="0.0" r="0.48"/><circle cx="7.0" cy="25.1" r="0.41"/><circle cx="60.3" cy="42.4" r="0.48"/><circle cx="17.4" cy="24.0" r="0.60"/><circle cx="8.5" cy="58.6" r="0.95"/><circle cx="32.2" cy="33.4" r="0.45"/><circle cx="7.1" cy="23.6" r="0.55"/><circle cx="57.2" cy="11.1" r="0.41"/><circle cx="65.6" cy="36.4" r="0.48"/><circle cx="37.5" cy="1.9" r="0.69"/><circle cx="67.5" cy="59.6" r="0.78"/><circle cx="18.0" cy="25.3" r="0.49"/><circle cx="53.3" cy="36.7" r="0.83"/><circle cx="22.7" cy="15.4" r="0.85"/><circle cx="68.0" cy="58.8" r="0.84"/><circle cx="56.5" cy="51.1" r="0.52"/><circle cx="35.7" cy="24.5" r="0.42"/></g></pattern>
<pattern id="spB" width="67" height="73" patternUnits="userSpaceOnUse"><g fill="#343aa0"><circle cx="1.9" cy="18.7" r="0.53"/><circle cx="46.4" cy="64.1" r="0.62"/><circle cx="62.8" cy="66.2" r="0.88"/><circle cx="24.4" cy="14.8" r="0.51"/><circle cx="13.2" cy="13.7" r="0.71"/><circle cx="60.3" cy="56.3" r="0.64"/><circle cx="43.7" cy="53.6" r="0.44"/><circle cx="44.3" cy="61.0" r="0.79"/><circle cx="50.3" cy="32.0" r="0.49"/><circle cx="52.9" cy="22.3" r="0.80"/><circle cx="65.1" cy="26.5" r="0.60"/><circle cx="63.4" cy="48.6" r="0.49"/><circle cx="8.5" cy="10.1" r="0.85"/><circle cx="54.0" cy="9.8" r="0.81"/><circle cx="65.7" cy="44.0" r="0.58"/><circle cx="36.8" cy="8.8" r="0.41"/><circle cx="65.0" cy="43.5" r="0.66"/><circle cx="62.6" cy="29.1" r="0.84"/><circle cx="55.4" cy="14.1" r="0.53"/><circle cx="19.6" cy="16.1" r="0.69"/><circle cx="17.4" cy="28.1" r="0.47"/><circle cx="61.0" cy="23.7" r="0.63"/><circle cx="39.1" cy="60.6" r="0.61"/><circle cx="61.5" cy="33.6" r="0.67"/><circle cx="35.1" cy="1.3" r="0.62"/><circle cx="12.3" cy="0.3" r="0.80"/><circle cx="11.5" cy="31.7" r="0.76"/><circle cx="37.3" cy="21.8" r="0.66"/><circle cx="37.2" cy="52.5" r="0.45"/><circle cx="37.5" cy="16.6" r="0.54"/><circle cx="51.7" cy="34.0" r="0.68"/><circle cx="50.9" cy="61.1" r="0.62"/><circle cx="41.0" cy="33.9" r="0.66"/><circle cx="46.4" cy="30.3" r="0.67"/><circle cx="32.0" cy="63.1" r="0.75"/><circle cx="58.7" cy="63.1" r="0.53"/><circle cx="37.5" cy="63.2" r="0.82"/><circle cx="9.2" cy="8.1" r="0.62"/><circle cx="4.9" cy="16.1" r="0.44"/><circle cx="44.9" cy="52.5" r="0.85"/><circle cx="10.3" cy="48.0" r="0.73"/><circle cx="9.6" cy="59.1" r="0.88"/><circle cx="14.7" cy="63.8" r="0.60"/><circle cx="32.6" cy="66.3" r="0.82"/><circle cx="10.8" cy="28.9" r="0.66"/><circle cx="22.7" cy="13.1" r="0.56"/><circle cx="48.4" cy="1.3" r="0.68"/><circle cx="29.5" cy="1.2" r="0.57"/><circle cx="41.8" cy="34.3" r="0.43"/><circle cx="66.0" cy="52.8" r="0.89"/><circle cx="7.0" cy="17.8" r="0.42"/><circle cx="52.2" cy="18.1" r="0.46"/><circle cx="28.3" cy="61.1" r="0.81"/><circle cx="17.3" cy="10.0" r="0.86"/><circle cx="38.2" cy="46.9" r="0.44"/><circle cx="3.9" cy="46.1" r="0.61"/><circle cx="4.9" cy="62.9" r="0.72"/><circle cx="53.7" cy="5.6" r="0.83"/><circle cx="4.5" cy="57.8" r="0.63"/><circle cx="22.7" cy="37.1" r="0.86"/><circle cx="17.9" cy="8.7" r="0.66"/><circle cx="16.0" cy="7.3" r="0.48"/><circle cx="3.4" cy="13.5" r="0.56"/><circle cx="20.4" cy="50.9" r="0.54"/><circle cx="33.5" cy="11.9" r="0.57"/><circle cx="1.2" cy="16.8" r="0.41"/><circle cx="49.1" cy="36.9" r="0.49"/><circle cx="31.8" cy="62.6" r="0.45"/><circle cx="54.9" cy="29.0" r="0.65"/><circle cx="55.9" cy="26.3" r="0.65"/><circle cx="46.1" cy="65.8" r="0.57"/><circle cx="55.8" cy="47.4" r="0.72"/><circle cx="27.1" cy="23.3" r="0.43"/><circle cx="8.7" cy="4.7" r="0.77"/><circle cx="17.1" cy="10.9" r="0.44"/><circle cx="56.4" cy="58.3" r="0.74"/><circle cx="18.9" cy="16.2" r="0.55"/><circle cx="30.8" cy="10.6" r="0.62"/><circle cx="17.6" cy="64.4" r="0.89"/><circle cx="36.7" cy="16.4" r="0.88"/><circle cx="20.7" cy="23.9" r="0.40"/><circle cx="25.6" cy="31.8" r="0.65"/><circle cx="13.5" cy="33.8" r="0.40"/><circle cx="17.7" cy="6.0" r="0.60"/><circle cx="2.8" cy="1.5" r="0.55"/><circle cx="15.6" cy="39.2" r="0.66"/><circle cx="50.3" cy="44.1" r="0.76"/><circle cx="58.9" cy="26.1" r="0.56"/><circle cx="66.0" cy="10.0" r="0.76"/><circle cx="43.1" cy="2.9" r="0.82"/><circle cx="59.8" cy="42.0" r="0.77"/><circle cx="54.4" cy="9.3" r="0.66"/><circle cx="33.8" cy="55.9" r="0.80"/><circle cx="55.4" cy="39.1" r="0.85"/><circle cx="45.8" cy="46.5" r="0.51"/><circle cx="2.1" cy="8.9" r="0.58"/><circle cx="7.0" cy="56.0" r="0.68"/><circle cx="42.1" cy="42.0" r="0.74"/><circle cx="32.8" cy="0.2" r="0.80"/><circle cx="50.1" cy="33.7" r="0.67"/><circle cx="44.2" cy="4.4" r="0.77"/><circle cx="16.9" cy="5.0" r="0.53"/><circle cx="48.9" cy="13.7" r="0.77"/><circle cx="65.4" cy="33.1" r="0.59"/><circle cx="32.1" cy="45.8" r="0.78"/><circle cx="41.3" cy="43.1" r="0.44"/><circle cx="9.9" cy="17.0" r="0.77"/><circle cx="20.4" cy="38.0" r="0.41"/><circle cx="4.1" cy="18.0" r="0.74"/><circle cx="46.4" cy="45.3" r="0.55"/><circle cx="34.6" cy="31.1" r="0.63"/><circle cx="7.9" cy="59.9" r="0.50"/><circle cx="65.5" cy="62.7" r="0.41"/><circle cx="30.8" cy="54.9" r="0.88"/><circle cx="30.1" cy="18.0" r="0.50"/><circle cx="63.4" cy="14.1" r="0.69"/><circle cx="9.5" cy="35.1" r="0.88"/><circle cx="8.9" cy="55.0" r="0.65"/><circle cx="59.4" cy="47.1" r="0.52"/><circle cx="60.1" cy="32.6" r="0.41"/></g></pattern>
<pattern id="dnG" width="53" height="47" patternUnits="userSpaceOnUse"><g fill="#50a537"><circle cx="0.2" cy="24.6" r="0.75"/><circle cx="15.1" cy="7.0" r="0.69"/><circle cx="15.8" cy="42.0" r="0.50"/><circle cx="37.5" cy="42.0" r="0.57"/><circle cx="46.3" cy="35.7" r="1.00"/><circle cx="14.5" cy="18.6" r="0.72"/><circle cx="49.9" cy="29.5" r="0.70"/><circle cx="21.4" cy="13.8" r="0.53"/><circle cx="5.1" cy="41.7" r="0.66"/><circle cx="46.8" cy="12.5" r="0.65"/><circle cx="25.5" cy="9.5" r="0.71"/><circle cx="47.8" cy="44.2" r="0.95"/><circle cx="31.5" cy="45.7" r="1.02"/><circle cx="27.5" cy="36.0" r="0.53"/><circle cx="36.6" cy="22.5" r="0.91"/><circle cx="32.2" cy="14.3" r="0.53"/><circle cx="46.3" cy="6.4" r="0.76"/><circle cx="17.2" cy="14.9" r="0.91"/><circle cx="48.8" cy="13.0" r="0.86"/><circle cx="15.0" cy="27.9" r="0.72"/><circle cx="8.4" cy="8.1" r="0.61"/><circle cx="45.3" cy="24.9" r="0.62"/><circle cx="45.3" cy="49.8" r="0.75"/><circle cx="7.0" cy="9.6" r="0.55"/><circle cx="17.1" cy="4.6" r="0.63"/><circle cx="12.9" cy="28.5" r="0.99"/><circle cx="37.5" cy="20.6" r="0.73"/><circle cx="26.2" cy="18.8" r="0.69"/><circle cx="3.1" cy="13.9" r="1.03"/><circle cx="6.3" cy="25.2" r="0.85"/><circle cx="43.1" cy="10.8" r="0.65"/><circle cx="12.4" cy="20.0" r="0.75"/><circle cx="47.7" cy="42.4" r="0.98"/><circle cx="1.1" cy="1.6" r="0.89"/><circle cx="44.8" cy="23.7" r="0.82"/><circle cx="0.0" cy="19.6" r="1.01"/><circle cx="41.3" cy="42.8" r="1.03"/><circle cx="12.4" cy="5.5" r="0.58"/><circle cx="26.1" cy="34.1" r="1.02"/><circle cx="36.1" cy="32.4" r="0.92"/><circle cx="22.9" cy="27.6" r="0.52"/><circle cx="39.1" cy="11.6" r="1.01"/><circle cx="32.3" cy="15.2" r="0.57"/><circle cx="12.6" cy="31.8" r="0.88"/><circle cx="5.6" cy="3.5" r="0.79"/><circle cx="29.1" cy="19.4" r="0.62"/><circle cx="30.1" cy="0.5" r="0.67"/><circle cx="23.0" cy="47.9" r="0.85"/><circle cx="44.2" cy="23.8" r="0.63"/><circle cx="12.4" cy="48.0" r="0.89"/><circle cx="15.4" cy="1.1" r="0.77"/><circle cx="33.7" cy="21.0" r="0.64"/><circle cx="33.4" cy="46.3" r="0.62"/><circle cx="1.7" cy="16.9" r="0.73"/><circle cx="34.1" cy="9.9" r="0.94"/><circle cx="37.0" cy="25.2" r="0.61"/><circle cx="48.5" cy="15.6" r="0.95"/><circle cx="11.5" cy="11.1" r="0.92"/><circle cx="14.7" cy="47.6" r="0.77"/><circle cx="9.4" cy="11.2" r="0.73"/><circle cx="33.3" cy="47.4" r="0.58"/><circle cx="19.7" cy="10.6" r="1.04"/><circle cx="7.1" cy="2.6" r="0.53"/><circle cx="19.7" cy="44.9" r="0.99"/><circle cx="36.6" cy="49.9" r="1.01"/><circle cx="16.5" cy="9.3" r="1.01"/><circle cx="37.3" cy="1.6" r="0.87"/><circle cx="18.9" cy="18.7" r="0.68"/><circle cx="8.5" cy="0.1" r="0.65"/><circle cx="17.6" cy="47.8" r="0.57"/><circle cx="48.2" cy="10.4" r="0.70"/><circle cx="41.1" cy="41.1" r="0.74"/><circle cx="2.5" cy="23.7" r="0.70"/><circle cx="46.0" cy="9.7" r="0.70"/><circle cx="44.8" cy="1.5" r="0.73"/><circle cx="40.6" cy="38.3" r="0.52"/><circle cx="1.7" cy="3.1" r="1.01"/><circle cx="12.9" cy="37.4" r="0.99"/><circle cx="17.0" cy="13.6" r="1.03"/><circle cx="30.8" cy="13.1" r="0.89"/><circle cx="15.8" cy="13.8" r="0.50"/><circle cx="37.8" cy="45.8" r="0.85"/><circle cx="47.2" cy="1.2" r="0.63"/><circle cx="23.8" cy="47.8" r="1.02"/><circle cx="19.3" cy="12.6" r="0.74"/><circle cx="24.7" cy="46.4" r="0.60"/><circle cx="40.1" cy="36.9" r="0.95"/><circle cx="38.6" cy="30.4" r="0.68"/><circle cx="16.0" cy="18.1" r="0.93"/><circle cx="4.0" cy="9.9" r="0.91"/><circle cx="12.4" cy="3.2" r="0.52"/><circle cx="27.6" cy="16.3" r="1.04"/><circle cx="44.2" cy="49.4" r="0.65"/><circle cx="4.2" cy="4.8" r="0.77"/><circle cx="35.5" cy="22.3" r="0.63"/><circle cx="20.8" cy="31.0" r="0.87"/><circle cx="37.4" cy="42.3" r="0.87"/><circle cx="6.1" cy="42.0" r="0.66"/><circle cx="28.3" cy="18.6" r="0.91"/><circle cx="10.0" cy="12.4" r="0.63"/><circle cx="7.7" cy="44.2" r="0.82"/><circle cx="16.3" cy="19.8" r="1.05"/><circle cx="25.4" cy="11.6" r="0.94"/><circle cx="32.7" cy="49.5" r="0.56"/><circle cx="23.7" cy="41.0" r="0.96"/><circle cx="45.7" cy="2.0" r="0.66"/><circle cx="6.0" cy="9.5" r="1.04"/><circle cx="29.2" cy="46.5" r="0.70"/><circle cx="43.3" cy="22.5" r="0.64"/><circle cx="38.9" cy="47.3" r="0.56"/><circle cx="29.8" cy="31.0" r="0.62"/><circle cx="18.4" cy="7.1" r="0.61"/><circle cx="12.7" cy="30.0" r="0.86"/><circle cx="10.2" cy="0.6" r="0.68"/><circle cx="33.9" cy="9.3" r="0.67"/></g></pattern>
<pattern id="dnB" width="49" height="51" patternUnits="userSpaceOnUse"><g fill="#373eaa"><circle cx="10.2" cy="39.8" r="0.72"/><circle cx="3.2" cy="5.1" r="0.65"/><circle cx="27.5" cy="32.0" r="0.50"/><circle cx="8.2" cy="34.8" r="0.65"/><circle cx="14.2" cy="15.4" r="0.93"/><circle cx="15.6" cy="28.3" r="0.63"/><circle cx="20.8" cy="43.2" r="0.95"/><circle cx="18.2" cy="9.9" r="0.81"/><circle cx="10.2" cy="0.3" r="0.90"/><circle cx="21.2" cy="41.0" r="0.65"/><circle cx="44.1" cy="23.0" r="0.53"/><circle cx="0.7" cy="27.6" r="0.77"/><circle cx="45.5" cy="4.5" r="0.76"/><circle cx="18.5" cy="25.2" r="0.52"/><circle cx="14.2" cy="26.1" r="0.91"/><circle cx="5.4" cy="24.5" r="0.85"/><circle cx="48.3" cy="9.9" r="0.51"/><circle cx="47.2" cy="48.8" r="0.69"/><circle cx="2.7" cy="46.3" r="0.64"/><circle cx="45.2" cy="31.0" r="0.86"/><circle cx="8.0" cy="39.3" r="0.56"/><circle cx="20.2" cy="42.3" r="0.86"/><circle cx="9.1" cy="10.9" r="0.65"/><circle cx="25.9" cy="19.2" r="0.51"/><circle cx="12.4" cy="36.2" r="0.90"/><circle cx="2.1" cy="28.1" r="0.83"/><circle cx="1.9" cy="41.9" r="0.51"/><circle cx="30.0" cy="27.5" r="0.76"/><circle cx="15.3" cy="21.0" r="0.74"/><circle cx="21.3" cy="32.9" r="0.67"/><circle cx="21.9" cy="1.2" r="0.76"/><circle cx="24.5" cy="11.8" r="0.83"/><circle cx="39.0" cy="22.9" r="0.54"/><circle cx="23.7" cy="5.4" r="0.51"/><circle cx="21.5" cy="4.6" r="0.67"/><circle cx="25.5" cy="2.0" r="0.77"/><circle cx="4.1" cy="36.7" r="0.84"/><circle cx="25.6" cy="2.7" r="0.70"/><circle cx="18.9" cy="47.5" r="0.52"/><circle cx="42.9" cy="49.8" r="0.82"/><circle cx="40.7" cy="9.7" r="0.94"/><circle cx="24.6" cy="47.8" r="0.91"/><circle cx="8.3" cy="39.4" r="0.92"/><circle cx="3.3" cy="17.5" r="0.83"/><circle cx="7.9" cy="44.8" r="0.59"/><circle cx="40.8" cy="7.2" r="0.70"/><circle cx="46.0" cy="10.4" r="0.58"/><circle cx="25.3" cy="16.0" r="0.47"/><circle cx="9.1" cy="8.1" r="0.92"/><circle cx="34.0" cy="44.8" r="0.53"/><circle cx="39.2" cy="5.8" r="0.72"/><circle cx="31.8" cy="18.0" r="0.89"/><circle cx="27.8" cy="29.0" r="0.89"/><circle cx="5.2" cy="49.6" r="0.76"/><circle cx="19.7" cy="39.9" r="0.58"/><circle cx="49.5" cy="28.9" r="0.63"/><circle cx="38.2" cy="22.1" r="0.54"/><circle cx="37.2" cy="2.4" r="0.86"/><circle cx="12.7" cy="32.0" r="0.94"/><circle cx="29.3" cy="33.2" r="0.61"/><circle cx="0.1" cy="1.7" r="0.52"/><circle cx="30.8" cy="21.6" r="0.71"/><circle cx="44.8" cy="6.6" r="0.56"/><circle cx="32.7" cy="1.1" r="0.45"/><circle cx="17.7" cy="5.3" r="0.63"/><circle cx="11.2" cy="29.2" r="0.74"/><circle cx="10.2" cy="31.2" r="0.69"/><circle cx="6.7" cy="46.8" r="0.57"/><circle cx="7.5" cy="4.8" r="0.77"/><circle cx="43.6" cy="39.1" r="0.65"/><circle cx="13.2" cy="0.6" r="0.77"/><circle cx="28.1" cy="17.5" r="0.77"/><circle cx="22.2" cy="46.9" r="0.82"/><circle cx="12.4" cy="45.2" r="0.47"/><circle cx="26.6" cy="20.3" r="0.57"/><circle cx="2.9" cy="38.9" r="0.46"/><circle cx="27.5" cy="47.0" r="0.52"/><circle cx="10.0" cy="30.4" r="0.70"/><circle cx="32.1" cy="40.7" r="0.54"/><circle cx="15.5" cy="15.0" r="0.47"/><circle cx="44.5" cy="39.1" r="0.81"/><circle cx="0.3" cy="42.2" r="0.82"/><circle cx="23.3" cy="37.1" r="0.68"/><circle cx="11.3" cy="5.3" r="0.57"/><circle cx="1.9" cy="16.8" r="0.82"/><circle cx="34.8" cy="42.3" r="0.81"/><circle cx="13.3" cy="27.7" r="0.67"/><circle cx="39.4" cy="26.2" r="0.58"/><circle cx="32.1" cy="48.3" r="0.56"/><circle cx="44.0" cy="0.8" r="0.58"/><circle cx="11.8" cy="37.2" r="0.92"/><circle cx="37.3" cy="16.3" r="0.89"/><circle cx="16.4" cy="12.0" r="0.90"/><circle cx="31.5" cy="34.6" r="0.78"/><circle cx="49.0" cy="23.5" r="0.87"/><circle cx="34.9" cy="42.9" r="0.67"/><circle cx="36.2" cy="28.5" r="0.60"/><circle cx="10.6" cy="31.1" r="0.49"/><circle cx="45.5" cy="7.2" r="0.46"/><circle cx="5.3" cy="46.4" r="0.62"/><circle cx="7.1" cy="1.4" r="0.47"/><circle cx="34.6" cy="31.7" r="0.80"/><circle cx="36.8" cy="3.3" r="0.75"/><circle cx="18.2" cy="40.9" r="0.86"/><circle cx="44.6" cy="3.3" r="0.88"/><circle cx="45.7" cy="47.2" r="0.50"/><circle cx="10.3" cy="5.6" r="0.47"/><circle cx="42.4" cy="40.6" r="0.77"/><circle cx="41.3" cy="31.6" r="0.59"/><circle cx="5.0" cy="4.9" r="0.83"/><circle cx="10.2" cy="16.0" r="0.66"/><circle cx="1.0" cy="12.8" r="0.59"/><circle cx="35.8" cy="18.4" r="0.61"/><circle cx="48.2" cy="25.2" r="0.88"/><circle cx="30.9" cy="1.5" r="0.66"/></g></pattern>
<filter id="rough" x="-5%" y="-5%" width="110%" height="110%"><feTurbulence type="fractalNoise" baseFrequency="0.13" numOctaves="2" seed="3" result="n"/><feDisplacementMap in="SourceGraphic" in2="n" scale="10" xChannelSelector="R" yChannelSelector="G" result="d"/><feTurbulence type="fractalNoise" baseFrequency="0.38" numOctaves="2" seed="11" result="n2"/><feColorMatrix in="n2" type="matrix" values="0 0 0 0 0 0 0 0 0 0 0 0 0 0 0 0 0 0 -2.6 2.15" result="m"/><feComposite in="d" in2="m" operator="in"/><feGaussianBlur stdDeviation="0.4"/></filter>
</defs>
<clipPath id="k00"><rect x="43.5" y="1766.5" width="220.4" height="175.7"/></clipPath>
<rect x="43.1" y="1766.0" width="221.2" height="176.5" fill="#0d1004"/>
<g clip-path="url(#k00)">
<rect x="43.1" y="1766.0" width="221.2" height="176.5" fill="url(#spG)" opacity="0.50"/>
<polygon points="87.3,1942.5 109.5,1917.8 153.7,1903.7 209.0,1896.7 264.3,1882.5 264.3,1942.5" fill="#121b08"/>
<polygon points="87.3,1942.5 109.5,1917.8 153.7,1903.7 209.0,1896.7 264.3,1882.5 264.3,1942.5" fill="url(#dnG)" opacity="0.85"/>
<g filter="url(#rough)" fill="none" stroke-linecap="round" stroke-linejoin="round">
<path d="M66.5 1880.2C70.2 1877.6 79.7 1869.8 88.2 1864.5C96.7 1859.3 107.7 1853.4 117.4 1848.8C127.2 1844.3 137.0 1840.1 146.8 1837.2C156.6 1834.3 166.5 1832.5 176.3 1831.4C186.1 1830.2 195.9 1830.1 205.7 1830.3C215.5 1830.4 227.4 1830.8 234.9 1832.2C242.4 1833.7 247.3 1836.7 250.6 1839.1C253.9 1841.6 253.9 1845.6 254.6 1846.9" stroke="#14200a" stroke-width="10.8"/>
<path d="M66.5 1880.2C70.2 1877.6 79.7 1869.8 88.2 1864.5C96.7 1859.3 107.7 1853.4 117.4 1848.8C127.2 1844.3 137.0 1840.1 146.8 1837.2C156.6 1834.3 166.5 1832.5 176.3 1831.4C186.1 1830.2 195.9 1830.1 205.7 1830.3C215.5 1830.4 227.4 1830.8 234.9 1832.2C242.4 1833.7 247.3 1836.7 250.6 1839.1C253.9 1841.6 253.9 1845.6 254.6 1846.9" stroke="#448f2f" stroke-width="6.0"/>
<path d="M252.6 1846.9C249.6 1846.9 241.1 1846.9 234.9 1846.9C228.7 1846.9 221.9 1845.9 215.4 1846.9C208.9 1847.9 202.3 1850.6 195.7 1852.9C189.2 1855.2 182.8 1858.4 176.3 1860.7C169.7 1862.9 163.1 1863.9 156.6 1866.5C150.1 1869.1 142.0 1873.1 137.1 1876.4C132.2 1879.6 129.7 1882.2 127.4 1886.1C125.1 1890.0 124.1 1897.5 123.4 1899.8" stroke="#141f09" stroke-width="8.6"/>
<path d="M252.6 1846.9C249.6 1846.9 241.1 1846.9 234.9 1846.9C228.7 1846.9 221.9 1845.9 215.4 1846.9C208.9 1847.9 202.3 1850.6 195.7 1852.9C189.2 1855.2 182.8 1858.4 176.3 1860.7C169.7 1862.9 163.1 1863.9 156.6 1866.5C150.1 1869.1 142.0 1873.1 137.1 1876.4C132.2 1879.6 129.7 1882.2 127.4 1886.1C125.1 1890.0 124.1 1897.5 123.4 1899.8" stroke="#41872d" stroke-width="4.8"/>
<path d="M43.1 1931.3C45.7 1929.6 52.9 1925.6 58.8 1921.4C64.7 1917.1 71.7 1910.5 78.3 1905.7C84.8 1900.8 92.7 1896.0 98.0 1892.1C103.2 1888.2 107.7 1883.8 109.7 1882.2" stroke="#121b08" stroke-width="9.4"/>
<path d="M43.1 1931.3C45.7 1929.6 52.9 1925.6 58.8 1921.4C64.7 1917.1 71.7 1910.5 78.3 1905.7C84.8 1900.8 92.7 1896.0 98.0 1892.1C103.2 1888.2 107.7 1883.8 109.7 1882.2" stroke="#346a23" stroke-width="3.2" stroke-dasharray="0.1 3.7" transform="translate(0 -2.6)"/>
<path d="M43.1 1931.3C45.7 1929.6 52.9 1925.6 58.8 1921.4C64.7 1917.1 71.7 1910.5 78.3 1905.7C84.8 1900.8 92.7 1896.0 98.0 1892.1C103.2 1888.2 107.7 1883.8 109.7 1882.2" stroke="#346a23" stroke-width="2.9" stroke-dasharray="0.1 4.2" transform="translate(1.2 0.3)"/>
<path d="M43.1 1931.3C45.7 1929.6 52.9 1925.6 58.8 1921.4C64.7 1917.1 71.7 1910.5 78.3 1905.7C84.8 1900.8 92.7 1896.0 98.0 1892.1C103.2 1888.2 107.7 1883.8 109.7 1882.2" stroke="#346a23" stroke-width="3.1" stroke-dasharray="0.1 4.0" transform="translate(2.2 3.1)"/>
<path d="M43.1 1778.4C44.9 1777.2 50.5 1773.3 54.2 1771.3C57.8 1769.4 63.4 1767.4 65.2 1766.6" stroke="#14200a" stroke-width="8.6"/>
<path d="M43.1 1778.4C44.9 1777.2 50.5 1773.3 54.2 1771.3C57.8 1769.4 63.4 1767.4 65.2 1766.6" stroke="#448f2f" stroke-width="4.8"/>
<path d="M254.6 1768.5C255.9 1769.8 261.0 1775.1 262.3 1776.5" stroke="#111a07" stroke-width="5.8"/>
<path d="M254.6 1768.5C255.9 1769.8 261.0 1775.1 262.3 1776.5" stroke="#316220" stroke-width="2.0" stroke-dasharray="0.1 2.3" transform="translate(0 -1.6)"/>
<path d="M254.6 1768.5C255.9 1769.8 261.0 1775.1 262.3 1776.5" stroke="#316220" stroke-width="1.8" stroke-dasharray="0.1 2.6" transform="translate(1.2 0.2)"/>
<path d="M254.6 1768.5C255.9 1769.8 261.0 1775.1 262.3 1776.5" stroke="#316220" stroke-width="1.9" stroke-dasharray="0.1 2.4" transform="translate(2.2 1.9)"/>
</g>
</g>
<rect x="43.6" y="1766.5" width="220.2" height="175.5" fill="none" stroke="#050603" stroke-width="1"/>
<clipPath id="k01"><rect x="43.5" y="1966.0" width="220.4" height="176.4"/></clipPath>
<rect x="43.1" y="1965.5" width="221.2" height="177.2" fill="#0d1004"/>
<g clip-path="url(#k01)">
<rect x="43.1" y="1965.5" width="221.2" height="177.2" fill="url(#spB)" opacity="0.50"/>
<polygon points="87.3,2142.8 109.5,2117.9 153.7,2103.8 209.0,2096.7 264.3,2082.5 264.3,2142.8" fill="#0e1109"/>
<polygon points="87.3,2142.8 109.5,2117.9 153.7,2103.8 209.0,2096.7 264.3,2082.5 264.3,2142.8" fill="url(#dnB)" opacity="0.50"/>
<g filter="url(#rough)" fill="none" stroke-linecap="round" stroke-linejoin="round">
<path d="M66.5 2080.2C70.2 2077.6 79.7 2069.7 88.2 2064.4C96.7 2059.2 107.7 2053.2 117.4 2048.7C127.2 2044.1 137.0 2039.9 146.8 2037.0C156.6 2034.0 166.5 2032.3 176.3 2031.1C186.1 2030.0 195.9 2029.9 205.7 2030.1C215.5 2030.2 227.4 2030.5 234.9 2032.0C242.4 2033.5 247.3 2036.5 250.6 2038.9C253.9 2041.4 253.9 2045.4 254.6 2046.7" stroke="#0f120d" stroke-width="10.8"/>
<path d="M66.5 2080.2C70.2 2077.6 79.7 2069.7 88.2 2064.4C96.7 2059.2 107.7 2053.2 117.4 2048.7C127.2 2044.1 137.0 2039.9 146.8 2037.0C156.6 2034.0 166.5 2032.3 176.3 2031.1C186.1 2030.0 195.9 2029.9 205.7 2030.1C215.5 2030.2 227.4 2030.5 234.9 2032.0C242.4 2033.5 247.3 2036.5 250.6 2038.9C253.9 2041.4 253.9 2045.4 254.6 2046.7" stroke="#1d2149" stroke-width="6.0"/>
<path d="M252.6 2046.7C249.6 2046.7 241.1 2046.7 234.9 2046.7C228.7 2046.7 221.9 2045.7 215.4 2046.7C208.9 2047.7 202.3 2050.4 195.7 2052.7C189.2 2055.0 182.8 2058.3 176.3 2060.5C169.7 2062.8 163.1 2063.7 156.6 2066.4C150.1 2069.0 142.0 2073.0 137.1 2076.3C132.2 2079.6 129.7 2082.1 127.4 2086.0C125.1 2090.0 124.1 2097.6 123.4 2099.9" stroke="#0f120d" stroke-width="8.6"/>
<path d="M252.6 2046.7C249.6 2046.7 241.1 2046.7 234.9 2046.7C228.7 2046.7 221.9 2045.7 215.4 2046.7C208.9 2047.7 202.3 2050.4 195.7 2052.7C189.2 2055.0 182.8 2058.3 176.3 2060.5C169.7 2062.8 163.1 2063.7 156.6 2066.4C150.1 2069.0 142.0 2073.0 137.1 2076.3C132.2 2079.6 129.7 2082.1 127.4 2086.0C125.1 2090.0 124.1 2097.6 123.4 2099.9" stroke="#1d2149" stroke-width="4.8"/>
<path d="M43.1 1978.0C44.9 1976.8 50.5 1972.8 54.2 1970.9C57.8 1968.9 63.4 1966.9 65.2 1966.1" stroke="#0d1006" stroke-width="8.6"/>
<path d="M43.1 1978.0C44.9 1976.8 50.5 1972.8 54.2 1970.9C57.8 1968.9 63.4 1966.9 65.2 1966.1" stroke="#101311" stroke-width="4.8"/>
</g>
</g>
<rect x="43.6" y="1966.0" width="220.2" height="176.2" fill="none" stroke="#050603" stroke-width="1"/>
<clipPath id="k02"><rect x="43.5" y="2165.7" width="220.4" height="176.8"/></clipPath>
<rect x="43.1" y="2165.2" width="221.2" height="177.6" fill="#0d1004"/>
<g clip-path="url(#k02)">
<rect x="43.1" y="2165.2" width="221.2" height="177.6" fill="url(#spG)" opacity="0.50"/>
<rect x="43.1" y="2165.2" width="221.2" height="177.6" fill="url(#spB)" opacity="0.50"/>
<polygon points="87.3,2342.8 109.5,2318.0 153.7,2303.8 209.0,2296.7 264.3,2282.5 264.3,2342.8" fill="#121b08"/>
<polygon points="87.3,2342.8 109.5,2318.0 153.7,2303.8 209.0,2296.7 264.3,2282.5 264.3,2342.8" fill="url(#dnG)" opacity="0.85"/>
<polygon points="87.3,2342.8 109.5,2318.0 153.7,2303.8 209.0,2296.7 264.3,2282.5 264.3,2342.8" fill="url(#dnB)" opacity="0.50"/>
<g filter="url(#rough)" fill="none" stroke-linecap="round" stroke-linejoin="round">
<path d="M66.5 2280.2C70.2 2277.5 79.7 2269.6 88.2 2264.4C96.7 2259.1 107.7 2253.1 117.4 2248.5C127.2 2244.0 137.0 2239.8 146.8 2236.8C156.6 2233.9 166.5 2232.1 176.3 2231.0C186.1 2229.8 195.9 2229.7 205.7 2229.9C215.5 2230.0 227.4 2230.4 234.9 2231.8C242.4 2233.3 247.3 2236.3 250.6 2238.8C253.9 2241.2 253.9 2245.3 254.6 2246.6" stroke="#14200e" stroke-width="10.8"/>
<path d="M66.5 2280.2C70.2 2277.5 79.7 2269.6 88.2 2264.4C96.7 2259.1 107.7 2253.1 117.4 2248.5C127.2 2244.0 137.0 2239.8 146.8 2236.8C156.6 2233.9 166.5 2232.1 176.3 2231.0C186.1 2229.8 195.9 2229.7 205.7 2229.9C215.5 2230.0 227.4 2230.4 234.9 2231.8C242.4 2233.3 247.3 2236.3 250.6 2238.8C253.9 2241.2 253.9 2245.3 254.6 2246.6" stroke="#428e50" stroke-width="6.0"/>
<path d="M252.6 2246.6C249.6 2246.6 241.1 2246.6 234.9 2246.6C228.7 2246.6 221.9 2245.6 215.4 2246.6C208.9 2247.6 202.3 2250.3 195.7 2252.6C189.2 2254.9 182.8 2258.2 176.3 2260.4C169.7 2262.7 163.1 2263.7 156.6 2266.3C150.1 2268.9 142.0 2273.0 137.1 2276.2C132.2 2279.5 129.7 2282.1 127.4 2286.0C125.1 2290.0 124.1 2297.6 123.4 2299.9" stroke="#14200e" stroke-width="8.6"/>
<path d="M252.6 2246.6C249.6 2246.6 241.1 2246.6 234.9 2246.6C228.7 2246.6 221.9 2245.6 215.4 2246.6C208.9 2247.6 202.3 2250.3 195.7 2252.6C189.2 2254.9 182.8 2258.2 176.3 2260.4C169.7 2262.7 163.1 2263.7 156.6 2266.3C150.1 2268.9 142.0 2273.0 137.1 2276.2C132.2 2279.5 129.7 2282.1 127.4 2286.0C125.1 2290.0 124.1 2297.6 123.4 2299.9" stroke="#428e50" stroke-width="4.8"/>
<path d="M43.1 2331.5C45.7 2329.8 52.9 2325.8 58.8 2321.5C64.7 2317.2 71.7 2310.6 78.3 2305.7C84.8 2300.8 92.7 2296.0 98.0 2292.1C103.2 2288.1 107.7 2283.8 109.7 2282.1" stroke="#121b08" stroke-width="9.4"/>
<path d="M43.1 2331.5C45.7 2329.8 52.9 2325.8 58.8 2321.5C64.7 2317.2 71.7 2310.6 78.3 2305.7C84.8 2300.8 92.7 2296.0 98.0 2292.1C103.2 2288.1 107.7 2283.8 109.7 2282.1" stroke="#346a23" stroke-width="3.2" stroke-dasharray="0.1 3.7" transform="translate(0 -2.6)"/>
<path d="M43.1 2331.5C45.7 2329.8 52.9 2325.8 58.8 2321.5C64.7 2317.2 71.7 2310.6 78.3 2305.7C84.8 2300.8 92.7 2296.0 98.0 2292.1C103.2 2288.1 107.7 2283.8 109.7 2282.1" stroke="#346a23" stroke-width="2.9" stroke-dasharray="0.1 4.2" transform="translate(1.2 0.3)"/>
<path d="M43.1 2331.5C45.7 2329.8 52.9 2325.8 58.8 2321.5C64.7 2317.2 71.7 2310.6 78.3 2305.7C84.8 2300.8 92.7 2296.0 98.0 2292.1C103.2 2288.1 107.7 2283.8 109.7 2282.1" stroke="#346a23" stroke-width="3.1" stroke-dasharray="0.1 4.0" transform="translate(2.2 3.1)"/>
<path d="M43.1 2177.7C44.9 2176.5 50.5 2172.6 54.2 2170.6C57.8 2168.6 63.4 2166.6 65.2 2165.8" stroke="#15210c" stroke-width="8.6"/>
<path d="M43.1 2177.7C44.9 2176.5 50.5 2172.6 54.2 2170.6C57.8 2168.6 63.4 2166.6 65.2 2165.8" stroke="#48923f" stroke-width="4.8"/>
<path d="M254.6 2167.7C255.9 2169.1 261.0 2174.4 262.3 2175.7" stroke="#111a07" stroke-width="5.8"/>
<path d="M254.6 2167.7C255.9 2169.1 261.0 2174.4 262.3 2175.7" stroke="#316220" stroke-width="2.0" stroke-dasharray="0.1 2.3" transform="translate(0 -1.6)"/>
<path d="M254.6 2167.7C255.9 2169.1 261.0 2174.4 262.3 2175.7" stroke="#316220" stroke-width="1.8" stroke-dasharray="0.1 2.6" transform="translate(1.2 0.2)"/>
<path d="M254.6 2167.7C255.9 2169.1 261.0 2174.4 262.3 2175.7" stroke="#316220" stroke-width="1.9" stroke-dasharray="0.1 2.4" transform="translate(2.2 1.9)"/>
</g>
</g>
<rect x="43.6" y="2165.8" width="220.2" height="176.6" fill="none" stroke="#050603" stroke-width="1"/>
<clipPath id="k10"><rect x="275.5" y="1765.9" width="220.6" height="175.7"/></clipPath>
<rect x="275.1" y="1765.5" width="221.4" height="176.5" fill="#0d1004"/>
<g clip-path="url(#k10)">
<rect x="275.1" y="1765.5" width="221.4" height="176.5" fill="url(#spG)" opacity="0.25"/>
<g filter="url(#rough)" fill="none" stroke-linecap="round" stroke-linejoin="round">
<path d="M291.9 1854.5C296.7 1853.0 311.5 1849.0 320.5 1846.0C329.5 1842.9 337.5 1839.2 345.9 1836.1C354.4 1833.0 362.6 1829.2 371.0 1827.5C379.4 1825.7 388.1 1825.9 396.4 1825.9C404.8 1825.9 412.8 1826.1 421.2 1827.5C429.6 1828.8 439.9 1831.9 446.9 1834.2C453.9 1836.4 458.8 1838.6 463.3 1840.9C467.8 1843.1 472.0 1846.6 473.7 1847.7" stroke="#101606" stroke-width="13.0"/>
<path d="M291.9 1854.5C296.7 1853.0 311.5 1849.0 320.5 1846.0C329.5 1842.9 337.5 1839.2 345.9 1836.1C354.4 1833.0 362.6 1829.2 371.0 1827.5C379.4 1825.7 388.1 1825.9 396.4 1825.9C404.8 1825.9 412.8 1826.1 421.2 1827.5C429.6 1828.8 439.9 1831.9 446.9 1834.2C453.9 1836.4 458.8 1838.6 463.3 1840.9C467.8 1843.1 472.0 1846.6 473.7 1847.7" stroke="#203d13" stroke-width="7.2"/>
<path d="M277.3 1894.9C280.6 1893.6 290.2 1890.6 297.2 1887.3C304.3 1884.0 312.0 1878.8 319.4 1874.9C326.8 1871.1 337.8 1866.1 341.5 1864.3" stroke="#0f1405" stroke-width="15.8"/>
<path d="M277.3 1894.9C280.6 1893.6 290.2 1890.6 297.2 1887.3C304.3 1884.0 312.0 1878.8 319.4 1874.9C326.8 1871.1 337.8 1866.1 341.5 1864.3" stroke="#1d3410" stroke-width="5.5" stroke-dasharray="0.1 6.3" transform="translate(0 -4.4)"/>
<path d="M277.3 1894.9C280.6 1893.6 290.2 1890.6 297.2 1887.3C304.3 1884.0 312.0 1878.8 319.4 1874.9C326.8 1871.1 337.8 1866.1 341.5 1864.3" stroke="#1d3410" stroke-width="4.8" stroke-dasharray="0.1 7.0" transform="translate(1.2 0.4)"/>
<path d="M277.3 1894.9C280.6 1893.6 290.2 1890.6 297.2 1887.3C304.3 1884.0 312.0 1878.8 319.4 1874.9C326.8 1871.1 337.8 1866.1 341.5 1864.3" stroke="#1d3410" stroke-width="5.3" stroke-dasharray="0.1 6.7" transform="translate(2.2 5.3)"/>
<path d="M438.9 1897.9C443.0 1900.2 453.7 1907.7 463.3 1912.0C472.9 1916.3 491.0 1921.6 496.5 1923.5" stroke="#0f1405" stroke-width="13.0"/>
<path d="M438.9 1897.9C443.0 1900.2 453.7 1907.7 463.3 1912.0C472.9 1916.3 491.0 1921.6 496.5 1923.5" stroke="#1a2e0e" stroke-width="7.2"/>
<path d="M357.7 1935.3C361.3 1933.9 371.3 1928.5 379.2 1926.8C387.0 1925.1 396.1 1924.4 404.6 1925.2C413.1 1926.1 423.1 1929.7 430.1 1931.9C437.1 1934.1 443.9 1937.4 446.7 1938.5" stroke="#0f1405" stroke-width="11.5"/>
<path d="M357.7 1935.3C361.3 1933.9 371.3 1928.5 379.2 1926.8C387.0 1925.1 396.1 1924.4 404.6 1925.2C413.1 1926.1 423.1 1929.7 430.1 1931.9C437.1 1934.1 443.9 1937.4 446.7 1938.5" stroke="#1b310f" stroke-width="6.4"/>
<path d="M365.9 1882.0C368.1 1880.2 372.1 1873.8 379.2 1871.4C386.2 1869.0 400.2 1870.2 407.9 1867.9C415.7 1865.5 422.7 1859.0 425.7 1857.3" stroke="#0e1305" stroke-width="4.3"/>
<path d="M365.9 1882.0C368.1 1880.2 372.1 1873.8 379.2 1871.4C386.2 1869.0 400.2 1870.2 407.9 1867.9C415.7 1865.5 422.7 1859.0 425.7 1857.3" stroke="#17260c" stroke-width="2.4"/>
</g>
</g>
<rect x="275.6" y="1766.0" width="220.4" height="175.5" fill="none" stroke="#050603" stroke-width="1"/>
<clipPath id="k11"><rect x="275.5" y="1965.4" width="220.6" height="176.4"/></clipPath>
<rect x="275.1" y="1965.0" width="221.4" height="177.2" fill="#0d1004"/>
<g clip-path="url(#k11)">
<rect x="275.1" y="1965.0" width="221.4" height="177.2" fill="url(#spB)" opacity="0.90"/>
<g filter="url(#rough)" fill="none" stroke-linecap="round" stroke-linejoin="round">
<path d="M291.9 2054.3C296.7 2052.9 311.5 2048.9 320.5 2045.8C329.5 2042.7 337.5 2039.0 345.9 2035.9C354.4 2032.8 362.6 2028.9 371.0 2027.2C379.4 2025.5 388.1 2025.6 396.4 2025.6C404.8 2025.6 412.8 2025.8 421.2 2027.2C429.6 2028.6 439.9 2031.7 446.9 2033.9C453.9 2036.2 458.8 2038.4 463.3 2040.7C467.8 2042.9 472.0 2046.4 473.7 2047.6" stroke="#0f130e" stroke-width="13.0"/>
<path d="M291.9 2054.3C296.7 2052.9 311.5 2048.9 320.5 2045.8C329.5 2042.7 337.5 2039.0 345.9 2035.9C354.4 2032.8 362.6 2028.9 371.0 2027.2C379.4 2025.5 388.1 2025.6 396.4 2025.6C404.8 2025.6 412.8 2025.8 421.2 2027.2C429.6 2028.6 439.9 2031.7 446.9 2033.9C453.9 2036.2 458.8 2038.4 463.3 2040.7C467.8 2042.9 472.0 2046.4 473.7 2047.6" stroke="#1f2352" stroke-width="7.2"/>
<path d="M277.3 2094.9C280.6 2093.6 290.2 2090.6 297.2 2087.3C304.3 2083.9 312.0 2078.7 319.4 2074.9C326.8 2071.0 337.8 2066.0 341.5 2064.2" stroke="#0d1006" stroke-width="15.8"/>
<path d="M277.3 2094.9C280.6 2093.6 290.2 2090.6 297.2 2087.3C304.3 2083.9 312.0 2078.7 319.4 2074.9C326.8 2071.0 337.8 2066.0 341.5 2064.2" stroke="#101312" stroke-width="5.5" stroke-dasharray="0.1 6.3" transform="translate(0 -4.4)"/>
<path d="M277.3 2094.9C280.6 2093.6 290.2 2090.6 297.2 2087.3C304.3 2083.9 312.0 2078.7 319.4 2074.9C326.8 2071.0 337.8 2066.0 341.5 2064.2" stroke="#101312" stroke-width="4.8" stroke-dasharray="0.1 7.0" transform="translate(1.2 0.4)"/>
<path d="M277.3 2094.9C280.6 2093.6 290.2 2090.6 297.2 2087.3C304.3 2083.9 312.0 2078.7 319.4 2074.9C326.8 2071.0 337.8 2066.0 341.5 2064.2" stroke="#101312" stroke-width="5.3" stroke-dasharray="0.1 6.7" transform="translate(2.2 5.3)"/>
<path d="M438.9 2097.9C443.0 2100.3 453.7 2107.8 463.3 2112.1C472.9 2116.4 491.0 2121.7 496.5 2123.6" stroke="#0f120c" stroke-width="13.0"/>
<path d="M438.9 2097.9C443.0 2100.3 453.7 2107.8 463.3 2112.1C472.9 2116.4 491.0 2121.7 496.5 2123.6" stroke="#1b2043" stroke-width="7.2"/>
<path d="M357.7 2135.5C361.3 2134.0 371.3 2128.6 379.2 2127.0C387.0 2125.3 396.1 2124.5 404.6 2125.4C413.1 2126.2 423.1 2129.9 430.1 2132.1C437.1 2134.3 443.9 2137.6 446.7 2138.7" stroke="#0f120d" stroke-width="11.5"/>
<path d="M357.7 2135.5C361.3 2134.0 371.3 2128.6 379.2 2127.0C387.0 2125.3 396.1 2124.5 404.6 2125.4C413.1 2126.2 423.1 2129.9 430.1 2132.1C437.1 2134.3 443.9 2137.6 446.7 2138.7" stroke="#1d2149" stroke-width="6.4"/>
<path d="M365.9 2082.0C368.1 2080.2 372.1 2073.7 379.2 2071.3C386.2 2069.0 400.2 2070.1 407.9 2067.8C415.7 2065.4 422.7 2058.9 425.7 2057.1" stroke="#0e110a" stroke-width="4.3"/>
<path d="M365.9 2082.0C368.1 2080.2 372.1 2073.7 379.2 2071.3C386.2 2069.0 400.2 2070.1 407.9 2067.8C415.7 2065.4 422.7 2058.9 425.7 2057.1" stroke="#171b30" stroke-width="2.4"/>
</g>
</g>
<rect x="275.6" y="1965.5" width="220.4" height="176.2" fill="none" stroke="#050603" stroke-width="1"/>
<clipPath id="k12"><rect x="275.5" y="2165.1" width="220.6" height="176.8"/></clipPath>
<rect x="275.1" y="2164.7" width="221.4" height="177.6" fill="#0d1004"/>
<g clip-path="url(#k12)">
<rect x="275.1" y="2164.7" width="221.4" height="177.6" fill="url(#spG)" opacity="0.25"/>
<rect x="275.1" y="2164.7" width="221.4" height="177.6" fill="url(#spB)" opacity="0.90"/>
<g filter="url(#rough)" fill="none" stroke-linecap="round" stroke-linejoin="round">
<path d="M291.9 2254.2C296.7 2252.8 311.5 2248.8 320.5 2245.7C329.5 2242.6 337.5 2238.8 345.9 2235.7C354.4 2232.6 362.6 2228.8 371.0 2227.0C379.4 2225.3 388.1 2225.4 396.4 2225.4C404.8 2225.4 412.8 2225.6 421.2 2227.0C429.6 2228.4 439.9 2231.5 446.9 2233.8C453.9 2236.0 458.8 2238.3 463.3 2240.5C467.8 2242.8 472.0 2246.3 473.7 2247.5" stroke="#101413" stroke-width="13.0"/>
<path d="M291.9 2254.2C296.7 2252.8 311.5 2248.8 320.5 2245.7C329.5 2242.6 337.5 2238.8 345.9 2235.7C354.4 2232.6 362.6 2228.8 371.0 2227.0C379.4 2225.3 388.1 2225.4 396.4 2225.4C404.8 2225.4 412.8 2225.6 421.2 2227.0C429.6 2228.4 439.9 2231.5 446.9 2233.8C453.9 2236.0 458.8 2238.3 463.3 2240.5C467.8 2242.8 472.0 2246.3 473.7 2247.5" stroke="#243276" stroke-width="7.2"/>
<path d="M277.3 2294.9C280.6 2293.6 290.2 2290.6 297.2 2287.2C304.3 2283.9 312.0 2278.7 319.4 2274.8C326.8 2271.0 337.8 2265.9 341.5 2264.2" stroke="#0f1507" stroke-width="15.8"/>
<path d="M277.3 2294.9C280.6 2293.6 290.2 2290.6 297.2 2287.2C304.3 2283.9 312.0 2278.7 319.4 2274.8C326.8 2271.0 337.8 2265.9 341.5 2264.2" stroke="#213821" stroke-width="5.5" stroke-dasharray="0.1 6.3" transform="translate(0 -4.4)"/>
<path d="M277.3 2294.9C280.6 2293.6 290.2 2290.6 297.2 2287.2C304.3 2283.9 312.0 2278.7 319.4 2274.8C326.8 2271.0 337.8 2265.9 341.5 2264.2" stroke="#213821" stroke-width="4.8" stroke-dasharray="0.1 7.0" transform="translate(1.2 0.4)"/>
<path d="M277.3 2294.9C280.6 2293.6 290.2 2290.6 297.2 2287.2C304.3 2283.9 312.0 2278.7 319.4 2274.8C326.8 2271.0 337.8 2265.9 341.5 2264.2" stroke="#213821" stroke-width="5.3" stroke-dasharray="0.1 6.7" transform="translate(2.2 5.3)"/>
<path d="M438.9 2297.9C443.0 2300.3 453.7 2307.8 463.3 2312.1C472.9 2316.4 491.0 2321.7 496.5 2323.7" stroke="#0f1410" stroke-width="13.0"/>
<path d="M438.9 2297.9C443.0 2300.3 453.7 2307.8 463.3 2312.1C472.9 2316.4 491.0 2321.7 496.5 2323.7" stroke="#202c63" stroke-width="7.2"/>
<path d="M357.7 2335.6C361.3 2334.1 371.3 2328.7 379.2 2327.0C387.0 2325.3 396.1 2324.6 404.6 2325.4C413.1 2326.3 423.1 2330.0 430.1 2332.2C437.1 2334.4 443.9 2337.7 446.7 2338.7" stroke="#101412" stroke-width="11.5"/>
<path d="M357.7 2335.6C361.3 2334.1 371.3 2328.7 379.2 2327.0C387.0 2325.3 396.1 2324.6 404.6 2325.4C413.1 2326.3 423.1 2330.0 430.1 2332.2C437.1 2334.4 443.9 2337.7 446.7 2338.7" stroke="#222f6d" stroke-width="6.4"/>
<path d="M365.9 2281.9C368.1 2280.1 372.1 2273.6 379.2 2271.3C386.2 2268.9 400.2 2270.1 407.9 2267.7C415.7 2265.3 422.7 2258.8 425.7 2257.1" stroke="#0f130d" stroke-width="4.3"/>
<path d="M365.9 2281.9C368.1 2280.1 372.1 2273.6 379.2 2271.3C386.2 2268.9 400.2 2270.1 407.9 2267.7C415.7 2265.3 422.7 2258.8 425.7 2257.1" stroke="#1a2446" stroke-width="2.4"/>
</g>
</g>
<rect x="275.6" y="2165.2" width="220.4" height="176.6" fill="none" stroke="#050603" stroke-width="1"/>
<clipPath id="k20"><rect x="508.8" y="1765.8" width="220.7" height="175.7"/></clipPath>
<rect x="508.4" y="1765.4" width="221.5" height="176.5" fill="#0d1004"/>
<g clip-path="url(#k20)">
<rect x="508.4" y="1765.4" width="221.5" height="176.5" fill="url(#spG)" opacity="0.12"/>
<polygon points="561.6,1941.9 601.4,1908.4 652.4,1894.2 729.9,1874.8 729.9,1941.9" fill="#0d1104"/>
<polygon points="561.6,1941.9 601.4,1908.4 652.4,1894.2 729.9,1874.8 729.9,1941.9" fill="url(#dnG)" opacity="0.05"/>
<g filter="url(#rough)" fill="none" stroke-linecap="round" stroke-linejoin="round">
<path d="M525.2 1874.7C529.4 1873.0 542.1 1868.8 550.5 1864.6C558.9 1860.4 567.3 1854.2 575.7 1849.4C584.2 1844.6 592.6 1839.6 601.0 1836.0C609.4 1832.4 617.8 1830.5 626.2 1827.5C634.7 1824.6 643.1 1820.3 651.5 1818.4C659.9 1816.4 668.3 1816.0 676.7 1815.9C685.2 1815.7 695.5 1816.5 702.2 1817.5C709.0 1818.4 713.9 1820.0 717.3 1821.7C720.6 1823.4 722.4 1825.7 722.4 1827.5C722.4 1829.4 718.1 1831.8 717.3 1832.6" stroke="#121c08" stroke-width="10.8"/>
<path d="M525.2 1874.7C529.4 1873.0 542.1 1868.8 550.5 1864.6C558.9 1860.4 567.3 1854.2 575.7 1849.4C584.2 1844.6 592.6 1839.6 601.0 1836.0C609.4 1832.4 617.8 1830.5 626.2 1827.5C634.7 1824.6 643.1 1820.3 651.5 1818.4C659.9 1816.4 668.3 1816.0 676.7 1815.9C685.2 1815.7 695.5 1816.5 702.2 1817.5C709.0 1818.4 713.9 1820.0 717.3 1821.7C720.6 1823.4 722.4 1825.7 722.4 1827.5C722.4 1829.4 718.1 1831.8 717.3 1832.6" stroke="#346923" stroke-width="6.0"/>
<path d="M717.3 1832.6C713.4 1832.5 702.0 1830.9 693.8 1831.8C685.6 1832.6 675.4 1835.1 668.3 1837.8C661.3 1840.4 658.5 1844.8 651.5 1847.8C644.5 1850.9 634.7 1852.8 626.2 1856.1C617.8 1859.5 607.4 1863.4 601.0 1867.9C594.5 1872.4 590.8 1878.4 587.5 1883.1C584.1 1887.9 581.9 1894.3 580.8 1896.5" stroke="#121b08" stroke-width="4.6"/>
<path d="M717.3 1832.6C713.4 1832.5 702.0 1830.9 693.8 1831.8C685.6 1832.6 675.4 1835.1 668.3 1837.8C661.3 1840.4 658.5 1844.8 651.5 1847.8C644.5 1850.9 634.7 1852.8 626.2 1856.1C617.8 1859.5 607.4 1863.4 601.0 1867.9C594.5 1872.4 590.8 1878.4 587.5 1883.1C584.1 1887.9 581.9 1894.3 580.8 1896.5" stroke="#316220" stroke-width="2.6"/>
<path d="M508.4 1930.1C511.2 1927.3 519.6 1918.1 525.2 1913.3C530.8 1908.5 536.5 1905.4 542.1 1901.5C547.7 1897.6 553.8 1893.2 558.9 1889.8C564.0 1886.5 570.2 1882.8 572.4 1881.4" stroke="#121c08" stroke-width="8.6"/>
<path d="M508.4 1930.1C511.2 1927.3 519.6 1918.1 525.2 1913.3C530.8 1908.5 536.5 1905.4 542.1 1901.5C547.7 1897.6 553.8 1893.2 558.9 1889.8C564.0 1886.5 570.2 1882.8 572.4 1881.4" stroke="#387226" stroke-width="3.0" stroke-dasharray="0.1 3.5" transform="translate(0 -2.4)"/>
<path d="M508.4 1930.1C511.2 1927.3 519.6 1918.1 525.2 1913.3C530.8 1908.5 536.5 1905.4 542.1 1901.5C547.7 1897.6 553.8 1893.2 558.9 1889.8C564.0 1886.5 570.2 1882.8 572.4 1881.4" stroke="#387226" stroke-width="2.6" stroke-dasharray="0.1 3.8" transform="translate(1.2 0.2)"/>
<path d="M508.4 1930.1C511.2 1927.3 519.6 1918.1 525.2 1913.3C530.8 1908.5 536.5 1905.4 542.1 1901.5C547.7 1897.6 553.8 1893.2 558.9 1889.8C564.0 1886.5 570.2 1882.8 572.4 1881.4" stroke="#387226" stroke-width="2.9" stroke-dasharray="0.1 3.6" transform="translate(2.2 2.9)"/>
<path d="M508.4 1792.2C511.2 1790.8 520.2 1787.0 525.2 1783.9C530.3 1780.9 534.5 1776.8 538.7 1773.9C543.0 1770.9 548.5 1767.5 550.5 1766.3" stroke="#131e09" stroke-width="6.5"/>
<path d="M508.4 1792.2C511.2 1790.8 520.2 1787.0 525.2 1783.9C530.3 1780.9 534.5 1776.8 538.7 1773.9C543.0 1770.9 548.5 1767.5 550.5 1766.3" stroke="#3a7828" stroke-width="3.6"/>
</g>
</g>
<rect x="508.9" y="1765.9" width="220.5" height="175.5" fill="none" stroke="#050603" stroke-width="1"/>
<clipPath id="k21"><rect x="508.8" y="1965.3" width="220.7" height="176.4"/></clipPath>
<rect x="508.4" y="1964.9" width="221.5" height="177.2" fill="#0d1004"/>
<g clip-path="url(#k21)">
<rect x="508.4" y="1964.9" width="221.5" height="177.2" fill="url(#spB)" opacity="0.70"/>
<polygon points="561.6,2142.1 601.4,2108.4 652.4,2094.3 729.9,2074.8 729.9,2142.1" fill="#0e110a"/>
<polygon points="561.6,2142.1 601.4,2108.4 652.4,2094.3 729.9,2074.8 729.9,2142.1" fill="url(#dnB)" opacity="0.55"/>
<g filter="url(#rough)" fill="none" stroke-linecap="round" stroke-linejoin="round">
<path d="M525.2 2074.6C529.4 2072.9 542.1 2068.7 550.5 2064.5C558.9 2060.3 567.3 2054.0 575.7 2049.2C584.2 2044.5 592.6 2039.4 601.0 2035.8C609.4 2032.1 617.8 2030.2 626.2 2027.3C634.7 2024.3 643.1 2020.0 651.5 2018.1C659.9 2016.1 668.3 2015.7 676.7 2015.6C685.2 2015.4 695.5 2016.2 702.2 2017.2C709.0 2018.1 713.9 2019.7 717.3 2021.4C720.6 2023.1 722.4 2025.4 722.4 2027.3C722.4 2029.1 718.1 2031.6 717.3 2032.4" stroke="#0f120d" stroke-width="10.8"/>
<path d="M525.2 2074.6C529.4 2072.9 542.1 2068.7 550.5 2064.5C558.9 2060.3 567.3 2054.0 575.7 2049.2C584.2 2044.5 592.6 2039.4 601.0 2035.8C609.4 2032.1 617.8 2030.2 626.2 2027.3C634.7 2024.3 643.1 2020.0 651.5 2018.1C659.9 2016.1 668.3 2015.7 676.7 2015.6C685.2 2015.4 695.5 2016.2 702.2 2017.2C709.0 2018.1 713.9 2019.7 717.3 2021.4C720.6 2023.1 722.4 2025.4 722.4 2027.3C722.4 2029.1 718.1 2031.6 717.3 2032.4" stroke="#1d2149" stroke-width="6.0"/>
<path d="M717.3 2032.4C713.4 2032.3 702.0 2030.7 693.8 2031.5C685.6 2032.4 675.4 2034.9 668.3 2037.6C661.3 2040.2 658.5 2044.6 651.5 2047.7C644.5 2050.7 634.7 2052.6 626.2 2056.0C617.8 2059.3 607.4 2063.3 601.0 2067.9C594.5 2072.4 590.8 2078.3 587.5 2083.1C584.1 2087.9 581.9 2094.3 580.8 2096.6" stroke="#0f120d" stroke-width="4.6"/>
<path d="M717.3 2032.4C713.4 2032.3 702.0 2030.7 693.8 2031.5C685.6 2032.4 675.4 2034.9 668.3 2037.6C661.3 2040.2 658.5 2044.6 651.5 2047.7C644.5 2050.7 634.7 2052.6 626.2 2056.0C617.8 2059.3 607.4 2063.3 601.0 2067.9C594.5 2072.4 590.8 2078.3 587.5 2083.1C584.1 2087.9 581.9 2094.3 580.8 2096.6" stroke="#1d2149" stroke-width="2.6"/>
<path d="M508.4 2130.2C511.2 2127.4 519.6 2118.2 525.2 2113.4C530.8 2108.6 536.5 2105.4 542.1 2101.5C547.7 2097.6 553.8 2093.2 558.9 2089.8C564.0 2086.5 570.2 2082.7 572.4 2081.3" stroke="#0d1006" stroke-width="8.6"/>
<path d="M508.4 2130.2C511.2 2127.4 519.6 2118.2 525.2 2113.4C530.8 2108.6 536.5 2105.4 542.1 2101.5C547.7 2097.6 553.8 2093.2 558.9 2089.8C564.0 2086.5 570.2 2082.7 572.4 2081.3" stroke="#101312" stroke-width="3.0" stroke-dasharray="0.1 3.5" transform="translate(0 -2.4)"/>
<path d="M508.4 2130.2C511.2 2127.4 519.6 2118.2 525.2 2113.4C530.8 2108.6 536.5 2105.4 542.1 2101.5C547.7 2097.6 553.8 2093.2 558.9 2089.8C564.0 2086.5 570.2 2082.7 572.4 2081.3" stroke="#101312" stroke-width="2.6" stroke-dasharray="0.1 3.8" transform="translate(1.2 0.2)"/>
<path d="M508.4 2130.2C511.2 2127.4 519.6 2118.2 525.2 2113.4C530.8 2108.6 536.5 2105.4 542.1 2101.5C547.7 2097.6 553.8 2093.2 558.9 2089.8C564.0 2086.5 570.2 2082.7 572.4 2081.3" stroke="#101312" stroke-width="2.9" stroke-dasharray="0.1 3.6" transform="translate(2.2 2.9)"/>
<path d="M508.4 1991.8C511.2 1990.4 520.2 1986.6 525.2 1983.5C530.3 1980.4 534.5 1976.4 538.7 1973.4C543.0 1970.5 548.5 1967.1 550.5 1965.8" stroke="#0e1106" stroke-width="6.5"/>
<path d="M508.4 1991.8C511.2 1990.4 520.2 1986.6 525.2 1983.5C530.3 1980.4 534.5 1976.4 538.7 1973.4C543.0 1970.5 548.5 1967.1 550.5 1965.8" stroke="#111517" stroke-width="3.6"/>
</g>
</g>
<rect x="508.9" y="1965.4" width="220.5" height="176.2" fill="none" stroke="#050603" stroke-width="1"/>
<clipPath id="k22"><rect x="508.8" y="2165.0" width="220.7" height="176.8"/></clipPath>
<rect x="508.4" y="2164.6" width="221.5" height="177.6" fill="#0d1004"/>
<g clip-path="url(#k22)">
<rect x="508.4" y="2164.6" width="221.5" height="177.6" fill="url(#spG)" opacity="0.12"/>
<rect x="508.4" y="2164.6" width="221.5" height="177.6" fill="url(#spB)" opacity="0.70"/>
<polygon points="561.6,2342.2 601.4,2308.5 652.4,2294.2 729.9,2274.7 729.9,2342.2" fill="#0d1104"/>
<polygon points="561.6,2342.2 601.4,2308.5 652.4,2294.2 729.9,2274.7 729.9,2342.2" fill="url(#dnG)" opacity="0.05"/>
<polygon points="561.6,2342.2 601.4,2308.5 652.4,2294.2 729.9,2274.7 729.9,2342.2" fill="url(#dnB)" opacity="0.55"/>
<g filter="url(#rough)" fill="none" stroke-linecap="round" stroke-linejoin="round">
<path d="M525.2 2274.5C529.4 2272.8 542.1 2268.6 550.5 2264.4C558.9 2260.2 567.3 2253.9 575.7 2249.1C584.2 2244.3 592.6 2239.3 601.0 2235.6C609.4 2232.0 617.8 2230.1 626.2 2227.1C634.7 2224.2 643.1 2219.8 651.5 2217.9C659.9 2215.9 668.3 2215.5 676.7 2215.4C685.2 2215.2 695.5 2216.0 702.2 2217.0C709.0 2218.0 713.9 2219.6 717.3 2221.3C720.6 2222.9 722.4 2225.3 722.4 2227.1C722.4 2229.0 718.1 2231.4 717.3 2232.3" stroke="#111a14" stroke-width="10.8"/>
<path d="M525.2 2274.5C529.4 2272.8 542.1 2268.6 550.5 2264.4C558.9 2260.2 567.3 2253.9 575.7 2249.1C584.2 2244.3 592.6 2239.3 601.0 2235.6C609.4 2232.0 617.8 2230.1 626.2 2227.1C634.7 2224.2 643.1 2219.8 651.5 2217.9C659.9 2215.9 668.3 2215.5 676.7 2215.4C685.2 2215.2 695.5 2216.0 702.2 2217.0C709.0 2218.0 713.9 2219.6 717.3 2221.3C720.6 2222.9 722.4 2225.3 722.4 2227.1C722.4 2229.0 718.1 2231.4 717.3 2232.3" stroke="#2e5c82" stroke-width="6.0"/>
<path d="M717.3 2232.3C713.4 2232.1 702.0 2230.5 693.8 2231.4C685.6 2232.2 675.4 2234.7 668.3 2237.4C661.3 2240.1 658.5 2244.5 651.5 2247.5C644.5 2250.6 634.7 2252.5 626.2 2255.9C617.8 2259.3 607.4 2263.3 601.0 2267.8C594.5 2272.3 590.8 2278.3 587.5 2283.1C584.1 2287.9 581.9 2294.3 580.8 2296.6" stroke="#111a14" stroke-width="4.6"/>
<path d="M717.3 2232.3C713.4 2232.1 702.0 2230.5 693.8 2231.4C685.6 2232.2 675.4 2234.7 668.3 2237.4C661.3 2240.1 658.5 2244.5 651.5 2247.5C644.5 2250.6 634.7 2252.5 626.2 2255.9C617.8 2259.3 607.4 2263.3 601.0 2267.8C594.5 2272.3 590.8 2278.3 587.5 2283.1C584.1 2287.9 581.9 2294.3 580.8 2296.6" stroke="#2e5c82" stroke-width="2.6"/>
<path d="M508.4 2330.3C511.2 2327.5 519.6 2318.2 525.2 2313.4C530.8 2308.6 536.5 2305.5 542.1 2301.5C547.7 2297.6 553.8 2293.2 558.9 2289.8C564.0 2286.4 570.2 2282.7 572.4 2281.3" stroke="#131c0a" stroke-width="8.6"/>
<path d="M508.4 2330.3C511.2 2327.5 519.6 2318.2 525.2 2313.4C530.8 2308.6 536.5 2305.5 542.1 2301.5C547.7 2297.6 553.8 2293.2 558.9 2289.8C564.0 2286.4 570.2 2282.7 572.4 2281.3" stroke="#3c7737" stroke-width="3.0" stroke-dasharray="0.1 3.5" transform="translate(0 -2.4)"/>
<path d="M508.4 2330.3C511.2 2327.5 519.6 2318.2 525.2 2313.4C530.8 2308.6 536.5 2305.5 542.1 2301.5C547.7 2297.6 553.8 2293.2 558.9 2289.8C564.0 2286.4 570.2 2282.7 572.4 2281.3" stroke="#3c7737" stroke-width="2.6" stroke-dasharray="0.1 3.8" transform="translate(1.2 0.2)"/>
<path d="M508.4 2330.3C511.2 2327.5 519.6 2318.2 525.2 2313.4C530.8 2308.6 536.5 2305.5 542.1 2301.5C547.7 2297.6 553.8 2293.2 558.9 2289.8C564.0 2286.4 570.2 2282.7 572.4 2281.3" stroke="#3c7737" stroke-width="2.9" stroke-dasharray="0.1 3.6" transform="translate(2.2 2.9)"/>
<path d="M508.4 2191.6C511.2 2190.2 520.2 2186.3 525.2 2183.2C530.3 2180.2 534.5 2176.1 538.7 2173.1C543.0 2170.2 548.5 2166.8 550.5 2165.5" stroke="#141e0c" stroke-width="6.5"/>
<path d="M508.4 2191.6C511.2 2190.2 520.2 2186.3 525.2 2183.2C530.3 2180.2 534.5 2176.1 538.7 2173.1C543.0 2170.2 548.5 2166.8 550.5 2165.5" stroke="#407e3f" stroke-width="3.6"/>
</g>
</g>
<rect x="508.9" y="2165.1" width="220.5" height="176.6" fill="none" stroke="#050603" stroke-width="1"/>
<clipPath id="k30"><rect x="741.8" y="1765.7" width="220.7" height="175.7"/></clipPath>
<rect x="741.4" y="1765.3" width="221.5" height="176.5" fill="#0d1004"/>
<g clip-path="url(#k30)">
<rect x="741.4" y="1765.3" width="221.5" height="176.5" fill="url(#spG)" opacity="0.40"/>
<polygon points="741.4,1906.5 796.8,1901.2 852.1,1903.0 907.5,1904.7 962.9,1910.0 962.9,1941.8 741.4,1941.8" fill="#101706"/>
<polygon points="741.4,1906.5 796.8,1901.2 852.1,1903.0 907.5,1904.7 962.9,1910.0 962.9,1941.8 741.4,1941.8" fill="url(#dnG)" opacity="0.50"/>
<polygon points="741.4,1765.3 962.9,1765.3 962.9,1818.2 874.3,1809.4 807.9,1804.1 741.4,1827.1" fill="#0e1305"/>
<polygon points="741.4,1765.3 962.9,1765.3 962.9,1818.2 874.3,1809.4 807.9,1804.1 741.4,1827.1" fill="url(#dnG)" opacity="0.25"/>
<g filter="url(#rough)" fill="none" stroke-linecap="round" stroke-linejoin="round">
<path d="M741.4 1851.1C745.9 1848.8 759.9 1842.2 768.6 1837.7C777.4 1833.2 785.5 1827.5 793.9 1824.1C802.3 1820.7 810.7 1818.8 819.1 1817.4C827.6 1816.0 835.9 1814.7 844.4 1815.8C852.9 1816.9 861.4 1819.9 869.9 1824.1C878.3 1828.3 886.7 1835.4 895.1 1841.0C903.5 1846.6 912.0 1852.5 920.4 1857.8C928.8 1863.1 939.2 1869.6 945.6 1873.0C952.1 1876.3 956.9 1877.1 959.1 1877.9" stroke="#111807" stroke-width="18.0"/>
<path d="M741.4 1851.1C745.9 1848.8 759.9 1842.2 768.6 1837.7C777.4 1833.2 785.5 1827.5 793.9 1824.1C802.3 1820.7 810.7 1818.8 819.1 1817.4C827.6 1816.0 835.9 1814.7 844.4 1815.8C852.9 1816.9 861.4 1819.9 869.9 1824.1C878.3 1828.3 886.7 1835.4 895.1 1841.0C903.5 1846.6 912.0 1852.5 920.4 1857.8C928.8 1863.1 939.2 1869.6 945.6 1873.0C952.1 1876.3 956.9 1877.1 959.1 1877.9" stroke="#284f19" stroke-width="10.0"/>
<path d="M954.0 1883.0C948.4 1881.3 930.2 1876.3 920.4 1873.0C910.6 1869.6 903.5 1865.6 895.1 1862.7C886.7 1859.9 878.3 1857.4 869.9 1856.0C861.4 1854.6 852.9 1853.9 844.4 1854.4C835.9 1855.0 826.7 1856.6 819.1 1859.4C811.6 1862.2 804.6 1867.3 799.0 1871.2C793.4 1875.1 789.4 1879.1 785.7 1883.0C782.0 1886.9 778.5 1892.7 777.1 1894.7" stroke="#111807" stroke-width="14.4"/>
<path d="M954.0 1883.0C948.4 1881.3 930.2 1876.3 920.4 1873.0C910.6 1869.6 903.5 1865.6 895.1 1862.7C886.7 1859.9 878.3 1857.4 869.9 1856.0C861.4 1854.6 852.9 1853.9 844.4 1854.4C835.9 1855.0 826.7 1856.6 819.1 1859.4C811.6 1862.2 804.6 1867.3 799.0 1871.2C793.4 1875.1 789.4 1879.1 785.7 1883.0C782.0 1886.9 778.5 1892.7 777.1 1894.7" stroke="#284f19" stroke-width="8.0"/>
<path d="M741.4 1881.8C744.5 1880.3 755.7 1877.1 760.2 1873.0C764.8 1868.8 767.2 1859.7 768.6 1857.1" stroke="#101606" stroke-width="15.8"/>
<path d="M741.4 1881.8C744.5 1880.3 755.7 1877.1 760.2 1873.0C764.8 1868.8 767.2 1859.7 768.6 1857.1" stroke="#224115" stroke-width="5.5" stroke-dasharray="0.1 6.3" transform="translate(0 -4.4)"/>
<path d="M741.4 1881.8C744.5 1880.3 755.7 1877.1 760.2 1873.0C764.8 1868.8 767.2 1859.7 768.6 1857.1" stroke="#224115" stroke-width="4.8" stroke-dasharray="0.1 7.0" transform="translate(1.2 0.4)"/>
<path d="M741.4 1881.8C744.5 1880.3 755.7 1877.1 760.2 1873.0C764.8 1868.8 767.2 1859.7 768.6 1857.1" stroke="#224115" stroke-width="5.3" stroke-dasharray="0.1 6.7" transform="translate(2.2 5.3)"/>
<path d="M947.4 1765.3C948.9 1766.8 953.7 1771.2 956.3 1774.1C958.8 1777.1 961.8 1781.5 962.9 1783.0" stroke="#101807" stroke-width="11.5"/>
<path d="M947.4 1765.3C948.9 1766.8 953.7 1771.2 956.3 1774.1C958.8 1777.1 961.8 1781.5 962.9 1783.0" stroke="#274c18" stroke-width="6.4"/>
</g>
</g>
<rect x="741.9" y="1765.8" width="220.5" height="175.5" fill="none" stroke="#050603" stroke-width="1"/>
<clipPath id="k31"><rect x="741.8" y="1965.2" width="220.7" height="176.4"/></clipPath>
<rect x="741.4" y="1964.8" width="221.5" height="177.2" fill="#0d1004"/>
<g clip-path="url(#k31)">
<rect x="741.4" y="1964.8" width="221.5" height="177.2" fill="url(#spB)" opacity="0.75"/>
<polygon points="741.4,2106.6 796.8,2101.2 852.1,2103.0 907.5,2104.8 962.9,2110.1 962.9,2142.0 741.4,2142.0" fill="#0e120a"/>
<polygon points="741.4,2106.6 796.8,2101.2 852.1,2103.0 907.5,2104.8 962.9,2110.1 962.9,2142.0 741.4,2142.0" fill="url(#dnB)" opacity="0.60"/>
<g filter="url(#rough)" fill="none" stroke-linecap="round" stroke-linejoin="round">
<path d="M741.4 2050.9C745.9 2048.7 759.9 2042.0 768.6 2037.5C777.4 2032.9 785.5 2027.2 793.9 2023.8C802.3 2020.4 810.7 2018.5 819.1 2017.1C827.6 2015.7 835.9 2014.4 844.4 2015.5C852.9 2016.6 861.4 2019.6 869.9 2023.8C878.3 2028.0 886.7 2035.2 895.1 2040.8C903.5 2046.5 912.0 2052.3 920.4 2057.7C928.8 2063.0 939.2 2069.5 945.6 2072.9C952.1 2076.3 956.9 2077.0 959.1 2077.9" stroke="#0f120e" stroke-width="18.0"/>
<path d="M741.4 2050.9C745.9 2048.7 759.9 2042.0 768.6 2037.5C777.4 2032.9 785.5 2027.2 793.9 2023.8C802.3 2020.4 810.7 2018.5 819.1 2017.1C827.6 2015.7 835.9 2014.4 844.4 2015.5C852.9 2016.6 861.4 2019.6 869.9 2023.8C878.3 2028.0 886.7 2035.2 895.1 2040.8C903.5 2046.5 912.0 2052.3 920.4 2057.7C928.8 2063.0 939.2 2069.5 945.6 2072.9C952.1 2076.3 956.9 2077.0 959.1 2077.9" stroke="#1e2350" stroke-width="10.0"/>
<path d="M954.0 2083.0C948.4 2081.3 930.2 2076.3 920.4 2072.9C910.6 2069.5 903.5 2065.4 895.1 2062.6C886.7 2059.8 878.3 2057.3 869.9 2055.9C861.4 2054.5 852.9 2053.7 844.4 2054.3C835.9 2054.8 826.7 2056.4 819.1 2059.2C811.6 2062.1 804.6 2067.2 799.0 2071.1C793.4 2075.1 789.4 2079.1 785.7 2083.0C782.0 2086.9 778.5 2092.7 777.1 2094.7" stroke="#0f120d" stroke-width="14.4"/>
<path d="M954.0 2083.0C948.4 2081.3 930.2 2076.3 920.4 2072.9C910.6 2069.5 903.5 2065.4 895.1 2062.6C886.7 2059.8 878.3 2057.3 869.9 2055.9C861.4 2054.5 852.9 2053.7 844.4 2054.3C835.9 2054.8 826.7 2056.4 819.1 2059.2C811.6 2062.1 804.6 2067.2 799.0 2071.1C793.4 2075.1 789.4 2079.1 785.7 2083.0C782.0 2086.9 778.5 2092.7 777.1 2094.7" stroke="#1d2149" stroke-width="8.0"/>
<path d="M741.4 2111.9C750.6 2110.3 778.3 2103.3 796.8 2102.1C815.2 2100.9 833.7 2104.0 852.1 2104.8C870.6 2105.5 889.1 2105.4 907.5 2106.6C926.0 2107.7 953.7 2111.0 962.9 2111.9" stroke="#0f120c" stroke-width="2.6"/>
<path d="M741.4 2111.9C750.6 2110.3 778.3 2103.3 796.8 2102.1C815.2 2100.9 833.7 2104.0 852.1 2104.8C870.6 2105.5 889.1 2105.4 907.5 2106.6C926.0 2107.7 953.7 2111.0 962.9 2111.9" stroke="#1b2043" stroke-width="1.4"/>
<path d="M741.4 2081.8C744.5 2080.3 755.7 2077.0 760.2 2072.9C764.8 2068.8 767.2 2059.6 768.6 2056.9" stroke="#0d1005" stroke-width="15.8"/>
<path d="M741.4 2081.8C744.5 2080.3 755.7 2077.0 760.2 2072.9C764.8 2068.8 767.2 2059.6 768.6 2056.9" stroke="#0f120b" stroke-width="5.5" stroke-dasharray="0.1 6.3" transform="translate(0 -4.4)"/>
<path d="M741.4 2081.8C744.5 2080.3 755.7 2077.0 760.2 2072.9C764.8 2068.8 767.2 2059.6 768.6 2056.9" stroke="#0f120b" stroke-width="4.8" stroke-dasharray="0.1 7.0" transform="translate(1.2 0.4)"/>
<path d="M741.4 2081.8C744.5 2080.3 755.7 2077.0 760.2 2072.9C764.8 2068.8 767.2 2059.6 768.6 2056.9" stroke="#0f120b" stroke-width="5.3" stroke-dasharray="0.1 6.7" transform="translate(2.2 5.3)"/>
<path d="M947.4 1964.8C948.9 1966.3 953.7 1970.7 956.3 1973.7C958.8 1976.6 961.8 1981.0 962.9 1982.5" stroke="#0d1006" stroke-width="11.5"/>
<path d="M947.4 1964.8C948.9 1966.3 953.7 1970.7 956.3 1973.7C958.8 1976.6 961.8 1981.0 962.9 1982.5" stroke="#101311" stroke-width="6.4"/>
</g>
</g>
<rect x="741.9" y="1965.3" width="220.5" height="176.2" fill="none" stroke="#050603" stroke-width="1"/>
<clipPath id="k32"><rect x="741.8" y="2164.9" width="220.7" height="176.8"/></clipPath>
<rect x="741.4" y="2164.5" width="221.5" height="177.6" fill="#0d1004"/>
<g clip-path="url(#k32)">
<rect x="741.4" y="2164.5" width="221.5" height="177.6" fill="url(#spG)" opacity="0.40"/>
<rect x="741.4" y="2164.5" width="221.5" height="177.6" fill="url(#spB)" opacity="0.75"/>
<polygon points="741.4,2306.6 796.8,2301.3 852.1,2303.0 907.5,2304.8 962.9,2310.1 962.9,2342.1 741.4,2342.1" fill="#101706"/>
<polygon points="741.4,2306.6 796.8,2301.3 852.1,2303.0 907.5,2304.8 962.9,2310.1 962.9,2342.1 741.4,2342.1" fill="url(#dnG)" opacity="0.50"/>
<polygon points="741.4,2306.6 796.8,2301.3 852.1,2303.0 907.5,2304.8 962.9,2310.1 962.9,2342.1 741.4,2342.1" fill="url(#dnB)" opacity="0.60"/>
<polygon points="741.4,2164.5 962.9,2164.5 962.9,2217.8 874.3,2208.9 807.9,2203.6 741.4,2226.7" fill="#0e1305"/>
<polygon points="741.4,2164.5 962.9,2164.5 962.9,2217.8 874.3,2208.9 807.9,2203.6 741.4,2226.7" fill="url(#dnG)" opacity="0.25"/>
<g filter="url(#rough)" fill="none" stroke-linecap="round" stroke-linejoin="round">
<path d="M741.4 2250.8C745.9 2248.6 759.9 2241.8 768.6 2237.3C777.4 2232.8 785.5 2227.0 793.9 2223.6C802.3 2220.2 810.7 2218.3 819.1 2216.9C827.6 2215.5 835.9 2214.2 844.4 2215.3C852.9 2216.4 861.4 2219.4 869.9 2223.6C878.3 2227.9 886.7 2235.0 895.1 2240.7C903.5 2246.3 912.0 2252.2 920.4 2257.6C928.8 2262.9 939.2 2269.5 945.6 2272.8C952.1 2276.2 956.9 2277.0 959.1 2277.8" stroke="#101814" stroke-width="18.0"/>
<path d="M741.4 2250.8C745.9 2248.6 759.9 2241.8 768.6 2237.3C777.4 2232.8 785.5 2227.0 793.9 2223.6C802.3 2220.2 810.7 2218.3 819.1 2216.9C827.6 2215.5 835.9 2214.2 844.4 2215.3C852.9 2216.4 861.4 2219.4 869.9 2223.6C878.3 2227.9 886.7 2235.0 895.1 2240.7C903.5 2246.3 912.0 2252.2 920.4 2257.6C928.8 2262.9 939.2 2269.5 945.6 2272.8C952.1 2276.2 956.9 2277.0 959.1 2277.8" stroke="#264a80" stroke-width="10.0"/>
<path d="M954.0 2283.0C948.4 2281.3 930.2 2276.2 920.4 2272.8C910.6 2269.4 903.5 2265.4 895.1 2262.5C886.7 2259.7 878.3 2257.2 869.9 2255.8C861.4 2254.4 852.9 2253.6 844.4 2254.2C835.9 2254.8 826.7 2256.3 819.1 2259.2C811.6 2262.0 804.6 2267.1 799.0 2271.1C793.4 2275.0 789.4 2279.0 785.7 2283.0C782.0 2286.9 778.5 2292.7 777.1 2294.7" stroke="#101814" stroke-width="14.4"/>
<path d="M954.0 2283.0C948.4 2281.3 930.2 2276.2 920.4 2272.8C910.6 2269.4 903.5 2265.4 895.1 2262.5C886.7 2259.7 878.3 2257.2 869.9 2255.8C861.4 2254.4 852.9 2253.6 844.4 2254.2C835.9 2254.8 826.7 2256.3 819.1 2259.2C811.6 2262.0 804.6 2267.1 799.0 2271.1C793.4 2275.0 789.4 2279.0 785.7 2283.0C782.0 2286.9 778.5 2292.7 777.1 2294.7" stroke="#264a80" stroke-width="8.0"/>
<path d="M741.4 2311.9C750.6 2310.3 778.3 2303.3 796.8 2302.1C815.2 2301.0 833.7 2304.1 852.1 2304.8C870.6 2305.5 889.1 2305.4 907.5 2306.6C926.0 2307.8 953.7 2311.0 962.9 2311.9" stroke="#101814" stroke-width="2.6"/>
<path d="M741.4 2311.9C750.6 2310.3 778.3 2303.3 796.8 2302.1C815.2 2301.0 833.7 2304.1 852.1 2304.8C870.6 2305.5 889.1 2305.4 907.5 2306.6C926.0 2307.8 953.7 2311.0 962.9 2311.9" stroke="#264a80" stroke-width="1.4"/>
<path d="M741.4 2281.7C744.5 2280.2 755.7 2277.0 760.2 2272.8C764.8 2268.7 767.2 2259.5 768.6 2256.9" stroke="#101607" stroke-width="15.8"/>
<path d="M741.4 2281.7C744.5 2280.2 755.7 2277.0 760.2 2272.8C764.8 2268.7 767.2 2259.5 768.6 2256.9" stroke="#24431d" stroke-width="5.5" stroke-dasharray="0.1 6.3" transform="translate(0 -4.4)"/>
<path d="M741.4 2281.7C744.5 2280.2 755.7 2277.0 760.2 2272.8C764.8 2268.7 767.2 2259.5 768.6 2256.9" stroke="#24431d" stroke-width="4.8" stroke-dasharray="0.1 7.0" transform="translate(1.2 0.4)"/>
<path d="M741.4 2281.7C744.5 2280.2 755.7 2277.0 760.2 2272.8C764.8 2268.7 767.2 2259.5 768.6 2256.9" stroke="#24431d" stroke-width="5.3" stroke-dasharray="0.1 6.7" transform="translate(2.2 5.3)"/>
<path d="M947.4 2164.5C948.9 2166.0 953.7 2170.4 956.3 2173.4C958.8 2176.3 961.8 2180.8 962.9 2182.3" stroke="#111809" stroke-width="11.5"/>
<path d="M947.4 2164.5C948.9 2166.0 953.7 2170.4 956.3 2173.4C958.8 2176.3 961.8 2180.8 962.9 2182.3" stroke="#2a4f28" stroke-width="6.4"/>
</g>
</g>
<rect x="741.9" y="2165.0" width="220.5" height="176.6" fill="none" stroke="#050603" stroke-width="1"/>
<clipPath id="k40"><rect x="980.0" y="1761.9" width="220.6" height="176.0"/></clipPath>
<rect x="979.6" y="1761.5" width="221.4" height="176.8" fill="#0d1004"/>
<g clip-path="url(#k40)">
<rect x="979.6" y="1761.5" width="221.4" height="176.8" fill="url(#spG)" opacity="0.40"/>
<polygon points="979.6,1902.9 1046.0,1899.4 1101.4,1913.5 1156.7,1924.2 1201.0,1894.1 1201.0,1938.3 979.6,1938.3" fill="#101706"/>
<polygon points="979.6,1902.9 1046.0,1899.4 1101.4,1913.5 1156.7,1924.2 1201.0,1894.1 1201.0,1938.3 979.6,1938.3" fill="url(#dnG)" opacity="0.50"/>
<g filter="url(#rough)" fill="none" stroke-linecap="round" stroke-linejoin="round">
<path d="M986.9 1849.4C991.1 1847.4 1003.7 1840.7 1012.1 1837.5C1020.6 1834.3 1029.0 1830.9 1037.4 1830.1C1045.8 1829.3 1054.2 1831.0 1062.6 1832.6C1071.0 1834.1 1079.5 1836.5 1087.9 1839.3C1096.3 1842.1 1104.7 1846.3 1113.1 1849.4C1121.5 1852.5 1129.9 1856.2 1138.3 1857.9C1146.8 1859.5 1156.6 1860.3 1163.6 1859.4C1170.6 1858.6 1175.4 1854.1 1180.4 1852.7C1185.5 1851.3 1191.7 1851.4 1193.9 1851.1" stroke="#14200a" stroke-width="12.2"/>
<path d="M986.9 1849.4C991.1 1847.4 1003.7 1840.7 1012.1 1837.5C1020.6 1834.3 1029.0 1830.9 1037.4 1830.1C1045.8 1829.3 1054.2 1831.0 1062.6 1832.6C1071.0 1834.1 1079.5 1836.5 1087.9 1839.3C1096.3 1842.1 1104.7 1846.3 1113.1 1849.4C1121.5 1852.5 1129.9 1856.2 1138.3 1857.9C1146.8 1859.5 1156.6 1860.3 1163.6 1859.4C1170.6 1858.6 1175.4 1854.1 1180.4 1852.7C1185.5 1851.3 1191.7 1851.4 1193.9 1851.1" stroke="#448f2f" stroke-width="6.8"/>
<path d="M1193.9 1851.1C1194.2 1852.5 1197.9 1855.5 1195.7 1859.4C1193.4 1863.4 1187.2 1869.9 1180.4 1874.7C1173.7 1879.4 1163.6 1886.7 1155.2 1888.1C1146.8 1889.5 1138.3 1884.8 1129.9 1883.1C1121.5 1881.5 1113.1 1879.7 1104.7 1878.0C1096.3 1876.3 1087.9 1873.4 1079.5 1872.9C1071.0 1872.3 1061.2 1872.9 1054.2 1874.7C1047.2 1876.4 1041.6 1880.3 1037.4 1883.1C1033.2 1885.9 1030.4 1890.1 1029.0 1891.4" stroke="#14200a" stroke-width="10.1"/>
<path d="M1193.9 1851.1C1194.2 1852.5 1197.9 1855.5 1195.7 1859.4C1193.4 1863.4 1187.2 1869.9 1180.4 1874.7C1173.7 1879.4 1163.6 1886.7 1155.2 1888.1C1146.8 1889.5 1138.3 1884.8 1129.9 1883.1C1121.5 1881.5 1113.1 1879.7 1104.7 1878.0C1096.3 1876.3 1087.9 1873.4 1079.5 1872.9C1071.0 1872.3 1061.2 1872.9 1054.2 1874.7C1047.2 1876.4 1041.6 1880.3 1037.4 1883.1C1033.2 1885.9 1030.4 1890.1 1029.0 1891.4" stroke="#448f2f" stroke-width="5.6"/>
<path d="M979.6 1883.1C982.2 1882.0 989.9 1878.4 995.3 1876.4C1000.7 1874.4 1007.1 1873.9 1012.1 1871.1C1017.2 1868.3 1020.9 1862.2 1025.7 1859.4C1030.4 1856.7 1038.2 1855.3 1040.7 1854.5" stroke="#141f09" stroke-width="10.1"/>
<path d="M979.6 1883.1C982.2 1882.0 989.9 1878.4 995.3 1876.4C1000.7 1874.4 1007.1 1873.9 1012.1 1871.1C1017.2 1868.3 1020.9 1862.2 1025.7 1859.4C1030.4 1856.7 1038.2 1855.3 1040.7 1854.5" stroke="#469331" stroke-width="3.5" stroke-dasharray="0.1 4.0" transform="translate(0 -2.8)"/>
<path d="M979.6 1883.1C982.2 1882.0 989.9 1878.4 995.3 1876.4C1000.7 1874.4 1007.1 1873.9 1012.1 1871.1C1017.2 1868.3 1020.9 1862.2 1025.7 1859.4C1030.4 1856.7 1038.2 1855.3 1040.7 1854.5" stroke="#469331" stroke-width="3.1" stroke-dasharray="0.1 4.5" transform="translate(1.2 0.3)"/>
<path d="M979.6 1883.1C982.2 1882.0 989.9 1878.4 995.3 1876.4C1000.7 1874.4 1007.1 1873.9 1012.1 1871.1C1017.2 1868.3 1020.9 1862.2 1025.7 1859.4C1030.4 1856.7 1038.2 1855.3 1040.7 1854.5" stroke="#469331" stroke-width="3.4" stroke-dasharray="0.1 4.3" transform="translate(2.2 3.4)"/>
<path d="M1150.1 1761.5C1153.7 1763.2 1165.5 1768.8 1172.0 1771.9C1178.5 1775.1 1184.0 1778.2 1188.8 1780.4C1193.7 1782.7 1199.0 1784.5 1201.0 1785.4" stroke="#15210a" stroke-width="13.7"/>
<path d="M1150.1 1761.5C1153.7 1763.2 1165.5 1768.8 1172.0 1771.9C1178.5 1775.1 1184.0 1778.2 1188.8 1780.4C1193.7 1782.7 1199.0 1784.5 1201.0 1785.4" stroke="#489632" stroke-width="7.6"/>
</g>
</g>
<rect x="980.1" y="1762.0" width="220.4" height="175.8" fill="none" stroke="#050603" stroke-width="1"/>
<clipPath id="k41"><rect x="980.0" y="1961.4" width="220.6" height="176.4"/></clipPath>
<rect x="979.6" y="1961.0" width="221.4" height="177.2" fill="#0d1004"/>
<g clip-path="url(#k41)">
<rect x="979.6" y="1961.0" width="221.4" height="177.2" fill="url(#spB)" opacity="0.60"/>
<polygon points="979.6,2102.8 1046.0,2099.2 1101.4,2113.4 1156.7,2124.0 1201.0,2093.9 1201.0,2138.2 979.6,2138.2" fill="#0e1109"/>
<polygon points="979.6,2102.8 1046.0,2099.2 1101.4,2113.4 1156.7,2124.0 1201.0,2093.9 1201.0,2138.2 979.6,2138.2" fill="url(#dnB)" opacity="0.50"/>
<g filter="url(#rough)" fill="none" stroke-linecap="round" stroke-linejoin="round">
<path d="M986.9 2049.1C991.1 2047.1 1003.7 2040.4 1012.1 2037.2C1020.6 2034.0 1029.0 2030.6 1037.4 2029.8C1045.8 2028.9 1054.2 2030.7 1062.6 2032.2C1071.0 2033.8 1079.5 2036.2 1087.9 2039.0C1096.3 2041.8 1104.7 2046.0 1113.1 2049.1C1121.5 2052.2 1129.9 2055.9 1138.3 2057.6C1146.8 2059.3 1156.6 2060.0 1163.6 2059.2C1170.6 2058.3 1175.4 2053.8 1180.4 2052.4C1185.5 2051.0 1191.7 2051.1 1193.9 2050.8" stroke="#0f120c" stroke-width="12.2"/>
<path d="M986.9 2049.1C991.1 2047.1 1003.7 2040.4 1012.1 2037.2C1020.6 2034.0 1029.0 2030.6 1037.4 2029.8C1045.8 2028.9 1054.2 2030.7 1062.6 2032.2C1071.0 2033.8 1079.5 2036.2 1087.9 2039.0C1096.3 2041.8 1104.7 2046.0 1113.1 2049.1C1121.5 2052.2 1129.9 2055.9 1138.3 2057.6C1146.8 2059.3 1156.6 2060.0 1163.6 2059.2C1170.6 2058.3 1175.4 2053.8 1180.4 2052.4C1185.5 2051.0 1191.7 2051.1 1193.9 2050.8" stroke="#1b2043" stroke-width="6.8"/>
<path d="M1193.9 2050.8C1194.2 2052.2 1197.9 2055.2 1195.7 2059.2C1193.4 2063.1 1187.2 2069.6 1180.4 2074.4C1173.7 2079.2 1163.6 2086.5 1155.2 2087.9C1146.8 2089.3 1138.3 2084.6 1129.9 2082.9C1121.5 2081.2 1113.1 2079.5 1104.7 2077.8C1096.3 2076.1 1087.9 2073.2 1079.5 2072.6C1071.0 2072.1 1061.2 2072.7 1054.2 2074.4C1047.2 2076.1 1041.6 2080.1 1037.4 2082.9C1033.2 2085.7 1030.4 2089.9 1029.0 2091.2" stroke="#0f120c" stroke-width="10.1"/>
<path d="M1193.9 2050.8C1194.2 2052.2 1197.9 2055.2 1195.7 2059.2C1193.4 2063.1 1187.2 2069.6 1180.4 2074.4C1173.7 2079.2 1163.6 2086.5 1155.2 2087.9C1146.8 2089.3 1138.3 2084.6 1129.9 2082.9C1121.5 2081.2 1113.1 2079.5 1104.7 2077.8C1096.3 2076.1 1087.9 2073.2 1079.5 2072.6C1071.0 2072.1 1061.2 2072.7 1054.2 2074.4C1047.2 2076.1 1041.6 2080.1 1037.4 2082.9C1033.2 2085.7 1030.4 2089.9 1029.0 2091.2" stroke="#1b2043" stroke-width="5.6"/>
<path d="M979.6 2082.9C982.2 2081.8 989.9 2078.2 995.3 2076.2C1000.7 2074.2 1007.1 2073.7 1012.1 2070.9C1017.2 2068.0 1020.9 2061.9 1025.7 2059.2C1030.4 2056.4 1038.2 2055.0 1040.7 2054.2" stroke="#0d1006" stroke-width="10.1"/>
<path d="M979.6 2082.9C982.2 2081.8 989.9 2078.2 995.3 2076.2C1000.7 2074.2 1007.1 2073.7 1012.1 2070.9C1017.2 2068.0 1020.9 2061.9 1025.7 2059.2C1030.4 2056.4 1038.2 2055.0 1040.7 2054.2" stroke="#101312" stroke-width="3.5" stroke-dasharray="0.1 4.0" transform="translate(0 -2.8)"/>
<path d="M979.6 2082.9C982.2 2081.8 989.9 2078.2 995.3 2076.2C1000.7 2074.2 1007.1 2073.7 1012.1 2070.9C1017.2 2068.0 1020.9 2061.9 1025.7 2059.2C1030.4 2056.4 1038.2 2055.0 1040.7 2054.2" stroke="#101312" stroke-width="3.1" stroke-dasharray="0.1 4.5" transform="translate(1.2 0.3)"/>
<path d="M979.6 2082.9C982.2 2081.8 989.9 2078.2 995.3 2076.2C1000.7 2074.2 1007.1 2073.7 1012.1 2070.9C1017.2 2068.0 1020.9 2061.9 1025.7 2059.2C1030.4 2056.4 1038.2 2055.0 1040.7 2054.2" stroke="#101312" stroke-width="3.4" stroke-dasharray="0.1 4.3" transform="translate(2.2 3.4)"/>
<path d="M1150.1 1961.0C1153.7 1962.7 1165.5 1968.3 1172.0 1971.5C1178.5 1974.6 1184.0 1977.7 1188.8 1980.0C1193.7 1982.2 1199.0 1984.1 1201.0 1984.9" stroke="#0e1106" stroke-width="13.7"/>
<path d="M1150.1 1961.0C1153.7 1962.7 1165.5 1968.3 1172.0 1971.5C1178.5 1974.6 1184.0 1977.7 1188.8 1980.0C1193.7 1982.2 1199.0 1984.1 1201.0 1984.9" stroke="#111517" stroke-width="7.6"/>
</g>
</g>
<rect x="980.1" y="1961.5" width="220.4" height="176.2" fill="none" stroke="#050603" stroke-width="1"/>
<clipPath id="k42"><rect x="980.0" y="2161.2" width="220.6" height="176.7"/></clipPath>
<rect x="979.6" y="2160.8" width="221.4" height="177.5" fill="#0d1004"/>
<g clip-path="url(#k42)">
<rect x="979.6" y="2160.8" width="221.4" height="177.5" fill="url(#spG)" opacity="0.40"/>
<rect x="979.6" y="2160.8" width="221.4" height="177.5" fill="url(#spB)" opacity="0.60"/>
<polygon points="979.6,2302.8 1046.0,2299.2 1101.4,2313.5 1156.7,2324.1 1201.0,2293.9 1201.0,2338.3 979.6,2338.3" fill="#101706"/>
<polygon points="979.6,2302.8 1046.0,2299.2 1101.4,2313.5 1156.7,2324.1 1201.0,2293.9 1201.0,2338.3 979.6,2338.3" fill="url(#dnG)" opacity="0.50"/>
<polygon points="979.6,2302.8 1046.0,2299.2 1101.4,2313.5 1156.7,2324.1 1201.0,2293.9 1201.0,2338.3 979.6,2338.3" fill="url(#dnB)" opacity="0.50"/>
<g filter="url(#rough)" fill="none" stroke-linecap="round" stroke-linejoin="round">
<path d="M986.9 2249.0C991.1 2247.0 1003.7 2240.3 1012.1 2237.1C1020.6 2233.9 1029.0 2230.5 1037.4 2229.7C1045.8 2228.8 1054.2 2230.6 1062.6 2232.2C1071.0 2233.7 1079.5 2236.1 1087.9 2238.9C1096.3 2241.7 1104.7 2245.9 1113.1 2249.0C1121.5 2252.1 1129.9 2255.9 1138.3 2257.5C1146.8 2259.2 1156.6 2260.0 1163.6 2259.1C1170.6 2258.3 1175.4 2253.8 1180.4 2252.4C1185.5 2251.0 1191.7 2251.1 1193.9 2250.8" stroke="#142111" stroke-width="12.2"/>
<path d="M986.9 2249.0C991.1 2247.0 1003.7 2240.3 1012.1 2237.1C1020.6 2233.9 1029.0 2230.5 1037.4 2229.7C1045.8 2228.8 1054.2 2230.6 1062.6 2232.2C1071.0 2233.7 1079.5 2236.1 1087.9 2238.9C1096.3 2241.7 1104.7 2245.9 1113.1 2249.0C1121.5 2252.1 1129.9 2255.9 1138.3 2257.5C1146.8 2259.2 1156.6 2260.0 1163.6 2259.1C1170.6 2258.3 1175.4 2253.8 1180.4 2252.4C1185.5 2251.0 1191.7 2251.1 1193.9 2250.8" stroke="#449268" stroke-width="6.8"/>
<path d="M1193.9 2250.8C1194.2 2252.2 1197.9 2255.2 1195.7 2259.1C1193.4 2263.1 1187.2 2269.6 1180.4 2274.4C1173.7 2279.2 1163.6 2286.5 1155.2 2287.9C1146.8 2289.3 1138.3 2284.6 1129.9 2282.9C1121.5 2281.2 1113.1 2279.5 1104.7 2277.8C1096.3 2276.1 1087.9 2273.2 1079.5 2272.6C1071.0 2272.1 1061.2 2272.7 1054.2 2274.4C1047.2 2276.1 1041.6 2280.1 1037.4 2282.9C1033.2 2285.7 1030.4 2289.9 1029.0 2291.3" stroke="#142111" stroke-width="10.1"/>
<path d="M1193.9 2250.8C1194.2 2252.2 1197.9 2255.2 1195.7 2259.1C1193.4 2263.1 1187.2 2269.6 1180.4 2274.4C1173.7 2279.2 1163.6 2286.5 1155.2 2287.9C1146.8 2289.3 1138.3 2284.6 1129.9 2282.9C1121.5 2281.2 1113.1 2279.5 1104.7 2277.8C1096.3 2276.1 1087.9 2273.2 1079.5 2272.6C1071.0 2272.1 1061.2 2272.7 1054.2 2274.4C1047.2 2276.1 1041.6 2280.1 1037.4 2282.9C1033.2 2285.7 1030.4 2289.9 1029.0 2291.3" stroke="#449268" stroke-width="5.6"/>
<path d="M979.6 2282.9C982.2 2281.8 989.9 2278.2 995.3 2276.2C1000.7 2274.2 1007.1 2273.7 1012.1 2270.9C1017.2 2268.0 1020.9 2261.9 1025.7 2259.1C1030.4 2256.4 1038.2 2255.0 1040.7 2254.2" stroke="#14200b" stroke-width="10.1"/>
<path d="M979.6 2282.9C982.2 2281.8 989.9 2278.2 995.3 2276.2C1000.7 2274.2 1007.1 2273.7 1012.1 2270.9C1017.2 2268.0 1020.9 2261.9 1025.7 2259.1C1030.4 2256.4 1038.2 2255.0 1040.7 2254.2" stroke="#4a9742" stroke-width="3.5" stroke-dasharray="0.1 4.0" transform="translate(0 -2.8)"/>
<path d="M979.6 2282.9C982.2 2281.8 989.9 2278.2 995.3 2276.2C1000.7 2274.2 1007.1 2273.7 1012.1 2270.9C1017.2 2268.0 1020.9 2261.9 1025.7 2259.1C1030.4 2256.4 1038.2 2255.0 1040.7 2254.2" stroke="#4a9742" stroke-width="3.1" stroke-dasharray="0.1 4.5" transform="translate(1.2 0.3)"/>
<path d="M979.6 2282.9C982.2 2281.8 989.9 2278.2 995.3 2276.2C1000.7 2274.2 1007.1 2273.7 1012.1 2270.9C1017.2 2268.0 1020.9 2261.9 1025.7 2259.1C1030.4 2256.4 1038.2 2255.0 1040.7 2254.2" stroke="#4a9742" stroke-width="3.4" stroke-dasharray="0.1 4.3" transform="translate(2.2 3.4)"/>
<path d="M1150.1 2160.8C1153.7 2162.5 1165.5 2168.1 1172.0 2171.3C1178.5 2174.4 1184.0 2177.5 1188.8 2179.8C1193.7 2182.0 1199.0 2183.9 1201.0 2184.8" stroke="#15220d" stroke-width="13.7"/>
<path d="M1150.1 2160.8C1153.7 2162.5 1165.5 2168.1 1172.0 2171.3C1178.5 2174.4 1184.0 2177.5 1188.8 2179.8C1193.7 2182.0 1199.0 2183.9 1201.0 2184.8" stroke="#4d9c49" stroke-width="7.6"/>
</g>
</g>
<rect x="980.1" y="2161.3" width="220.4" height="176.5" fill="none" stroke="#050603" stroke-width="1"/>
<clipPath id="k50"><rect x="1208.4" y="1762.1" width="218.5" height="176.0"/></clipPath>
<rect x="1208.0" y="1761.7" width="219.3" height="176.8" fill="#0d1004"/>
<g clip-path="url(#k50)">
<rect x="1208.0" y="1761.7" width="219.3" height="176.8" fill="url(#spG)" opacity="0.45"/>
<polygon points="1208.0,1920.8 1251.9,1903.1 1317.7,1896.0 1427.3,1892.5 1427.3,1938.5 1208.0,1938.5" fill="#111807"/>
<polygon points="1208.0,1920.8 1251.9,1903.1 1317.7,1896.0 1427.3,1892.5 1427.3,1938.5 1208.0,1938.5" fill="url(#dnG)" opacity="0.60"/>
<polygon points="1208.0,1761.7 1427.3,1761.7 1427.3,1850.1 1361.5,1825.3 1306.7,1820.0 1251.9,1841.2 1208.0,1867.7" fill="#0e1205"/>
<polygon points="1208.0,1761.7 1427.3,1761.7 1427.3,1850.1 1361.5,1825.3 1306.7,1820.0 1251.9,1841.2 1208.0,1867.7" fill="url(#dnG)" opacity="0.18"/>
<g filter="url(#rough)" fill="none" stroke-linecap="round" stroke-linejoin="round">
<path d="M1225.1 1861.4C1228.5 1860.0 1238.7 1855.4 1245.5 1852.9C1252.3 1850.3 1259.5 1849.3 1265.7 1846.2C1271.8 1843.1 1275.9 1837.4 1282.3 1834.3C1288.8 1831.2 1296.4 1829.3 1304.3 1827.6C1312.2 1825.9 1322.7 1824.5 1329.7 1824.2C1336.7 1824.0 1340.8 1824.3 1346.4 1826.0C1352.0 1827.7 1357.6 1831.8 1363.3 1834.3C1368.9 1836.8 1374.5 1838.9 1380.2 1841.2C1385.8 1843.5 1391.4 1845.7 1397.0 1847.9C1402.7 1850.2 1409.4 1852.4 1413.9 1854.6C1418.4 1856.9 1422.1 1859.4 1424.0 1861.4C1425.9 1863.3 1427.2 1864.9 1425.5 1866.3C1423.9 1867.7 1415.9 1869.1 1413.9 1869.7" stroke="#131f09" stroke-width="10.1"/>
<path d="M1225.1 1861.4C1228.5 1860.0 1238.7 1855.4 1245.5 1852.9C1252.3 1850.3 1259.5 1849.3 1265.7 1846.2C1271.8 1843.1 1275.9 1837.4 1282.3 1834.3C1288.8 1831.2 1296.4 1829.3 1304.3 1827.6C1312.2 1825.9 1322.7 1824.5 1329.7 1824.2C1336.7 1824.0 1340.8 1824.3 1346.4 1826.0C1352.0 1827.7 1357.6 1831.8 1363.3 1834.3C1368.9 1836.8 1374.5 1838.9 1380.2 1841.2C1385.8 1843.5 1391.4 1845.7 1397.0 1847.9C1402.7 1850.2 1409.4 1852.4 1413.9 1854.6C1418.4 1856.9 1422.1 1859.4 1424.0 1861.4C1425.9 1863.3 1427.2 1864.9 1425.5 1866.3C1423.9 1867.7 1415.9 1869.1 1413.9 1869.7" stroke="#3e802a" stroke-width="5.6"/>
<path d="M1413.9 1869.7C1411.1 1868.8 1402.1 1867.0 1397.0 1864.7C1392.0 1862.5 1389.1 1857.4 1383.4 1856.2C1377.8 1855.1 1370.8 1857.2 1363.3 1858.0C1355.7 1858.9 1346.5 1860.5 1338.0 1861.4C1329.6 1862.2 1321.0 1861.8 1312.8 1863.0C1304.7 1864.1 1295.3 1865.3 1289.1 1868.1C1283.0 1870.9 1279.4 1876.3 1275.8 1879.9C1272.1 1883.6 1268.6 1888.3 1267.2 1890.0" stroke="#131f09" stroke-width="7.2"/>
<path d="M1413.9 1869.7C1411.1 1868.8 1402.1 1867.0 1397.0 1864.7C1392.0 1862.5 1389.1 1857.4 1383.4 1856.2C1377.8 1855.1 1370.8 1857.2 1363.3 1858.0C1355.7 1858.9 1346.5 1860.5 1338.0 1861.4C1329.6 1862.2 1321.0 1861.8 1312.8 1863.0C1304.7 1864.1 1295.3 1865.3 1289.1 1868.1C1283.0 1870.9 1279.4 1876.3 1275.8 1879.9C1272.1 1883.6 1268.6 1888.3 1267.2 1890.0" stroke="#3e802a" stroke-width="4.0"/>
<path d="M1208.0 1903.4C1210.9 1901.2 1219.4 1893.7 1225.1 1890.0C1230.8 1886.4 1236.4 1884.6 1242.0 1881.5C1247.6 1878.4 1253.8 1875.4 1258.9 1871.4C1263.9 1867.5 1268.3 1861.4 1272.3 1858.0C1276.2 1854.6 1280.7 1852.4 1282.3 1851.3" stroke="#141f09" stroke-width="10.8"/>
<path d="M1208.0 1903.4C1210.9 1901.2 1219.4 1893.7 1225.1 1890.0C1230.8 1886.4 1236.4 1884.6 1242.0 1881.5C1247.6 1878.4 1253.8 1875.4 1258.9 1871.4C1263.9 1867.5 1268.3 1861.4 1272.3 1858.0C1276.2 1854.6 1280.7 1852.4 1282.3 1851.3" stroke="#459030" stroke-width="3.7" stroke-dasharray="0.1 4.3" transform="translate(0 -3.0)"/>
<path d="M1208.0 1903.4C1210.9 1901.2 1219.4 1893.7 1225.1 1890.0C1230.8 1886.4 1236.4 1884.6 1242.0 1881.5C1247.6 1878.4 1253.8 1875.4 1258.9 1871.4C1263.9 1867.5 1268.3 1861.4 1272.3 1858.0C1276.2 1854.6 1280.7 1852.4 1282.3 1851.3" stroke="#459030" stroke-width="3.3" stroke-dasharray="0.1 4.8" transform="translate(1.2 0.3)"/>
<path d="M1208.0 1903.4C1210.9 1901.2 1219.4 1893.7 1225.1 1890.0C1230.8 1886.4 1236.4 1884.6 1242.0 1881.5C1247.6 1878.4 1253.8 1875.4 1258.9 1871.4C1263.9 1867.5 1268.3 1861.4 1272.3 1858.0C1276.2 1854.6 1280.7 1852.4 1282.3 1851.3" stroke="#459030" stroke-width="3.6" stroke-dasharray="0.1 4.6" transform="translate(2.2 3.6)"/>
<path d="M1208.0 1772.3C1210.2 1771.7 1216.8 1770.2 1221.2 1768.7C1225.5 1767.2 1232.1 1764.3 1234.3 1763.4" stroke="#121c08" stroke-width="5.8"/>
<path d="M1208.0 1772.3C1210.2 1771.7 1216.8 1770.2 1221.2 1768.7C1225.5 1767.2 1232.1 1764.3 1234.3 1763.4" stroke="#346923" stroke-width="3.2"/>
</g>
</g>
<rect x="1208.5" y="1762.2" width="218.3" height="175.8" fill="none" stroke="#050603" stroke-width="1"/>
<clipPath id="k51"><rect x="1208.4" y="1961.6" width="218.5" height="176.4"/></clipPath>
<rect x="1208.0" y="1961.2" width="219.3" height="177.2" fill="#0d1004"/>
<g clip-path="url(#k51)">
<rect x="1208.0" y="1961.2" width="219.3" height="177.2" fill="url(#spB)" opacity="0.60"/>
<polygon points="1208.0,2120.6 1251.9,2102.9 1317.7,2095.8 1427.3,2092.3 1427.3,2138.3 1208.0,2138.3" fill="#0e1109"/>
<polygon points="1208.0,2120.6 1251.9,2102.9 1317.7,2095.8 1427.3,2092.3 1427.3,2138.3 1208.0,2138.3" fill="url(#dnB)" opacity="0.50"/>
<g filter="url(#rough)" fill="none" stroke-linecap="round" stroke-linejoin="round">
<path d="M1225.1 2061.1C1228.5 2059.7 1238.7 2055.1 1245.5 2052.6C1252.3 2050.0 1259.5 2049.0 1265.7 2045.9C1271.8 2042.8 1275.9 2037.1 1282.3 2034.0C1288.8 2030.9 1296.4 2028.9 1304.3 2027.2C1312.2 2025.6 1322.7 2024.1 1329.7 2023.9C1336.7 2023.6 1340.8 2024.0 1346.4 2025.7C1352.0 2027.3 1357.6 2031.4 1363.3 2034.0C1368.9 2036.5 1374.5 2038.6 1380.2 2040.9C1385.8 2043.2 1391.4 2045.4 1397.0 2047.6C1402.7 2049.9 1409.4 2052.1 1413.9 2054.4C1418.4 2056.6 1422.1 2059.1 1424.0 2061.1C1425.9 2063.0 1427.2 2064.7 1425.5 2066.1C1423.9 2067.4 1415.9 2068.9 1413.9 2069.4" stroke="#0f120c" stroke-width="10.1"/>
<path d="M1225.1 2061.1C1228.5 2059.7 1238.7 2055.1 1245.5 2052.6C1252.3 2050.0 1259.5 2049.0 1265.7 2045.9C1271.8 2042.8 1275.9 2037.1 1282.3 2034.0C1288.8 2030.9 1296.4 2028.9 1304.3 2027.2C1312.2 2025.6 1322.7 2024.1 1329.7 2023.9C1336.7 2023.6 1340.8 2024.0 1346.4 2025.7C1352.0 2027.3 1357.6 2031.4 1363.3 2034.0C1368.9 2036.5 1374.5 2038.6 1380.2 2040.9C1385.8 2043.2 1391.4 2045.4 1397.0 2047.6C1402.7 2049.9 1409.4 2052.1 1413.9 2054.4C1418.4 2056.6 1422.1 2059.1 1424.0 2061.1C1425.9 2063.0 1427.2 2064.7 1425.5 2066.1C1423.9 2067.4 1415.9 2068.9 1413.9 2069.4" stroke="#1b2043" stroke-width="5.6"/>
<path d="M1413.9 2069.4C1411.1 2068.6 1402.1 2066.7 1397.0 2064.5C1392.0 2062.2 1389.1 2057.1 1383.4 2056.0C1377.8 2054.8 1370.8 2056.9 1363.3 2057.7C1355.7 2058.6 1346.5 2060.3 1338.0 2061.1C1329.6 2061.9 1321.0 2061.6 1312.8 2062.7C1304.7 2063.8 1295.3 2065.0 1289.1 2067.8C1283.0 2070.7 1279.4 2076.0 1275.8 2079.7C1272.1 2083.4 1268.6 2088.1 1267.2 2089.8" stroke="#0f120c" stroke-width="7.2"/>
<path d="M1413.9 2069.4C1411.1 2068.6 1402.1 2066.7 1397.0 2064.5C1392.0 2062.2 1389.1 2057.1 1383.4 2056.0C1377.8 2054.8 1370.8 2056.9 1363.3 2057.7C1355.7 2058.6 1346.5 2060.3 1338.0 2061.1C1329.6 2061.9 1321.0 2061.6 1312.8 2062.7C1304.7 2063.8 1295.3 2065.0 1289.1 2067.8C1283.0 2070.7 1279.4 2076.0 1275.8 2079.7C1272.1 2083.4 1268.6 2088.1 1267.2 2089.8" stroke="#1b2043" stroke-width="4.0"/>
<path d="M1208.0 2103.3C1210.9 2101.0 1219.4 2093.5 1225.1 2089.8C1230.8 2086.1 1236.4 2084.4 1242.0 2081.3C1247.6 2078.2 1253.8 2075.1 1258.9 2071.2C1263.9 2067.3 1268.3 2061.1 1272.3 2057.7C1276.2 2054.4 1280.7 2052.1 1282.3 2051.0" stroke="#0d1005" stroke-width="10.8"/>
<path d="M1208.0 2103.3C1210.9 2101.0 1219.4 2093.5 1225.1 2089.8C1230.8 2086.1 1236.4 2084.4 1242.0 2081.3C1247.6 2078.2 1253.8 2075.1 1258.9 2071.2C1263.9 2067.3 1268.3 2061.1 1272.3 2057.7C1276.2 2054.4 1280.7 2052.1 1282.3 2051.0" stroke="#0f120b" stroke-width="3.7" stroke-dasharray="0.1 4.3" transform="translate(0 -3.0)"/>
<path d="M1208.0 2103.3C1210.9 2101.0 1219.4 2093.5 1225.1 2089.8C1230.8 2086.1 1236.4 2084.4 1242.0 2081.3C1247.6 2078.2 1253.8 2075.1 1258.9 2071.2C1263.9 2067.3 1268.3 2061.1 1272.3 2057.7C1276.2 2054.4 1280.7 2052.1 1282.3 2051.0" stroke="#0f120b" stroke-width="3.3" stroke-dasharray="0.1 4.8" transform="translate(1.2 0.3)"/>
<path d="M1208.0 2103.3C1210.9 2101.0 1219.4 2093.5 1225.1 2089.8C1230.8 2086.1 1236.4 2084.4 1242.0 2081.3C1247.6 2078.2 1253.8 2075.1 1258.9 2071.2C1263.9 2067.3 1268.3 2061.1 1272.3 2057.7C1276.2 2054.4 1280.7 2052.1 1282.3 2051.0" stroke="#0f120b" stroke-width="3.6" stroke-dasharray="0.1 4.6" transform="translate(2.2 3.6)"/>
<path d="M1208.0 1971.8C1210.2 1971.2 1216.8 1969.7 1221.2 1968.2C1225.5 1966.8 1232.1 1963.8 1234.3 1962.9" stroke="#0d1006" stroke-width="5.8"/>
<path d="M1208.0 1971.8C1210.2 1971.2 1216.8 1969.7 1221.2 1968.2C1225.5 1966.8 1232.1 1963.8 1234.3 1962.9" stroke="#101311" stroke-width="3.2"/>
</g>
</g>
<rect x="1208.5" y="1961.7" width="218.3" height="176.2" fill="none" stroke="#050603" stroke-width="1"/>
<clipPath id="k52"><rect x="1208.4" y="2161.4" width="218.5" height="176.7"/></clipPath>
<rect x="1208.0" y="2161.0" width="219.3" height="177.5" fill="#0d1004"/>
<g clip-path="url(#k52)">
<rect x="1208.0" y="2161.0" width="219.3" height="177.5" fill="url(#spG)" opacity="0.45"/>
<rect x="1208.0" y="2161.0" width="219.3" height="177.5" fill="url(#spB)" opacity="0.60"/>
<polygon points="1208.0,2320.7 1251.9,2303.0 1317.7,2295.9 1427.3,2292.3 1427.3,2338.5 1208.0,2338.5" fill="#111807"/>
<polygon points="1208.0,2320.7 1251.9,2303.0 1317.7,2295.9 1427.3,2292.3 1427.3,2338.5 1208.0,2338.5" fill="url(#dnG)" opacity="0.60"/>
<polygon points="1208.0,2320.7 1251.9,2303.0 1317.7,2295.9 1427.3,2292.3 1427.3,2338.5 1208.0,2338.5" fill="url(#dnB)" opacity="0.50"/>
<polygon points="1208.0,2161.0 1427.3,2161.0 1427.3,2249.7 1361.5,2224.9 1306.7,2219.5 1251.9,2240.8 1208.0,2267.5" fill="#0e1205"/>
<polygon points="1208.0,2161.0 1427.3,2161.0 1427.3,2249.7 1361.5,2224.9 1306.7,2219.5 1251.9,2240.8 1208.0,2267.5" fill="url(#dnG)" opacity="0.18"/>
<g filter="url(#rough)" fill="none" stroke-linecap="round" stroke-linejoin="round">
<path d="M1225.1 2261.1C1228.5 2259.6 1238.7 2255.1 1245.5 2252.5C1252.3 2250.0 1259.5 2248.9 1265.7 2245.8C1271.8 2242.7 1275.9 2237.0 1282.3 2233.9C1288.8 2230.8 1296.4 2228.8 1304.3 2227.2C1312.2 2225.5 1322.7 2224.1 1329.7 2223.8C1336.7 2223.5 1340.8 2223.9 1346.4 2225.6C1352.0 2227.2 1357.6 2231.4 1363.3 2233.9C1368.9 2236.4 1374.5 2238.5 1380.2 2240.8C1385.8 2243.1 1391.4 2245.3 1397.0 2247.6C1402.7 2249.8 1409.4 2252.1 1413.9 2254.3C1418.4 2256.6 1422.1 2259.1 1424.0 2261.1C1425.9 2263.0 1427.2 2264.6 1425.5 2266.0C1423.9 2267.4 1415.9 2268.8 1413.9 2269.4" stroke="#121e12" stroke-width="10.1"/>
<path d="M1225.1 2261.1C1228.5 2259.6 1238.7 2255.1 1245.5 2252.5C1252.3 2250.0 1259.5 2248.9 1265.7 2245.8C1271.8 2242.7 1275.9 2237.0 1282.3 2233.9C1288.8 2230.8 1296.4 2228.8 1304.3 2227.2C1312.2 2225.5 1322.7 2224.1 1329.7 2223.8C1336.7 2223.5 1340.8 2223.9 1346.4 2225.6C1352.0 2227.2 1357.6 2231.4 1363.3 2233.9C1368.9 2236.4 1374.5 2238.5 1380.2 2240.8C1385.8 2243.1 1391.4 2245.3 1397.0 2247.6C1402.7 2249.8 1409.4 2252.1 1413.9 2254.3C1418.4 2256.6 1422.1 2259.1 1424.0 2261.1C1425.9 2263.0 1427.2 2264.6 1425.5 2266.0C1423.9 2267.4 1415.9 2268.8 1413.9 2269.4" stroke="#347c72" stroke-width="5.6"/>
<path d="M1413.9 2269.4C1411.1 2268.6 1402.1 2266.7 1397.0 2264.4C1392.0 2262.2 1389.1 2257.0 1383.4 2255.9C1377.8 2254.8 1370.8 2256.8 1363.3 2257.7C1355.7 2258.5 1346.5 2260.2 1338.0 2261.1C1329.6 2261.9 1321.0 2261.5 1312.8 2262.7C1304.7 2263.8 1295.3 2265.0 1289.1 2267.8C1283.0 2270.6 1279.4 2276.0 1275.8 2279.7C1272.1 2283.4 1268.6 2288.1 1267.2 2289.8" stroke="#121e12" stroke-width="7.2"/>
<path d="M1413.9 2269.4C1411.1 2268.6 1402.1 2266.7 1397.0 2264.4C1392.0 2262.2 1389.1 2257.0 1383.4 2255.9C1377.8 2254.8 1370.8 2256.8 1363.3 2257.7C1355.7 2258.5 1346.5 2260.2 1338.0 2261.1C1329.6 2261.9 1321.0 2261.5 1312.8 2262.7C1304.7 2263.8 1295.3 2265.0 1289.1 2267.8C1283.0 2270.6 1279.4 2276.0 1275.8 2279.7C1272.1 2283.4 1268.6 2288.1 1267.2 2289.8" stroke="#347c72" stroke-width="4.0"/>
<path d="M1208.0 2303.3C1210.9 2301.1 1219.4 2293.5 1225.1 2289.8C1230.8 2286.1 1236.4 2284.4 1242.0 2281.3C1247.6 2278.2 1253.8 2275.1 1258.9 2271.2C1263.9 2267.2 1268.3 2261.1 1272.3 2257.7C1276.2 2254.3 1280.7 2252.1 1282.3 2250.9" stroke="#141f0a" stroke-width="10.8"/>
<path d="M1208.0 2303.3C1210.9 2301.1 1219.4 2293.5 1225.1 2289.8C1230.8 2286.1 1236.4 2284.4 1242.0 2281.3C1247.6 2278.2 1253.8 2275.1 1258.9 2271.2C1263.9 2267.2 1268.3 2261.1 1272.3 2257.7C1276.2 2254.3 1280.7 2252.1 1282.3 2250.9" stroke="#479238" stroke-width="3.7" stroke-dasharray="0.1 4.3" transform="translate(0 -3.0)"/>
<path d="M1208.0 2303.3C1210.9 2301.1 1219.4 2293.5 1225.1 2289.8C1230.8 2286.1 1236.4 2284.4 1242.0 2281.3C1247.6 2278.2 1253.8 2275.1 1258.9 2271.2C1263.9 2267.2 1268.3 2261.1 1272.3 2257.7C1276.2 2254.3 1280.7 2252.1 1282.3 2250.9" stroke="#479238" stroke-width="3.3" stroke-dasharray="0.1 4.8" transform="translate(1.2 0.3)"/>
<path d="M1208.0 2303.3C1210.9 2301.1 1219.4 2293.5 1225.1 2289.8C1230.8 2286.1 1236.4 2284.4 1242.0 2281.3C1247.6 2278.2 1253.8 2275.1 1258.9 2271.2C1263.9 2267.2 1268.3 2261.1 1272.3 2257.7C1276.2 2254.3 1280.7 2252.1 1282.3 2250.9" stroke="#479238" stroke-width="3.6" stroke-dasharray="0.1 4.6" transform="translate(2.2 3.6)"/>
<path d="M1208.0 2171.6C1210.2 2171.0 1216.8 2169.5 1221.2 2168.1C1225.5 2166.6 1232.1 2163.6 1234.3 2162.7" stroke="#131c0a" stroke-width="5.8"/>
<path d="M1208.0 2171.6C1210.2 2171.0 1216.8 2169.5 1221.2 2168.1C1225.5 2166.6 1232.1 2163.6 1234.3 2162.7" stroke="#386d32" stroke-width="3.2"/>
</g>
</g>
<rect x="1208.5" y="2161.5" width="218.3" height="176.5" fill="none" stroke="#050603" stroke-width="1"/>
<text x="152.3" y="1750.9" font-size="22.4" font-weight="400" text-anchor="middle" fill="#1c1c1a" stroke="#1c1c1a" stroke-width="0.25">Control</text>
<text x="385.0" y="1750.9" font-size="22.4" font-weight="400" text-anchor="middle" fill="#1c1c1a" stroke="#1c1c1a" stroke-width="0.25">Model</text>
<text x="618.5" y="1750.9" font-size="22.4" font-weight="400" text-anchor="middle" fill="#1c1c1a" stroke="#1c1c1a" stroke-width="0.25">Low</text>
<text x="852.0" y="1750.9" font-size="22.4" font-weight="400" text-anchor="middle" fill="#1c1c1a" stroke="#1c1c1a" stroke-width="0.25">Middle</text>
<text x="1085.5" y="1750.9" font-size="22.4" font-weight="400" text-anchor="middle" fill="#1c1c1a" stroke="#1c1c1a" stroke-width="0.25">High</text>
<text x="1318.0" y="1750.9" font-size="22.4" font-weight="400" text-anchor="middle" fill="#1c1c1a" stroke="#1c1c1a" stroke-width="0.25">Doenpezil</text>
<text x="55.0" y="1759.0" font-size="41.5" font-weight="400" text-anchor="start" fill="#1c1c1a">H</text>
<text x="27.8" y="1850.6" font-size="23" font-weight="400" text-anchor="middle" fill="#78a83e" transform="rotate(-90 27.8 1850.6)">NeuN</text>
<text x="20.0" y="2050.3" font-size="22.9" font-weight="400" text-anchor="middle" fill="#4163ad" transform="rotate(-90 20.0 2050.3)">DAPI</text>
<text font-size="23.4" text-anchor="middle" transform="translate(20.0 2250.0) rotate(-90) scale(0.962 1)"><tspan fill="#78a83e">NeuN</tspan><tspan fill="#4163ad">/DAPI</tspan></text>
</svg>
</body></html>
